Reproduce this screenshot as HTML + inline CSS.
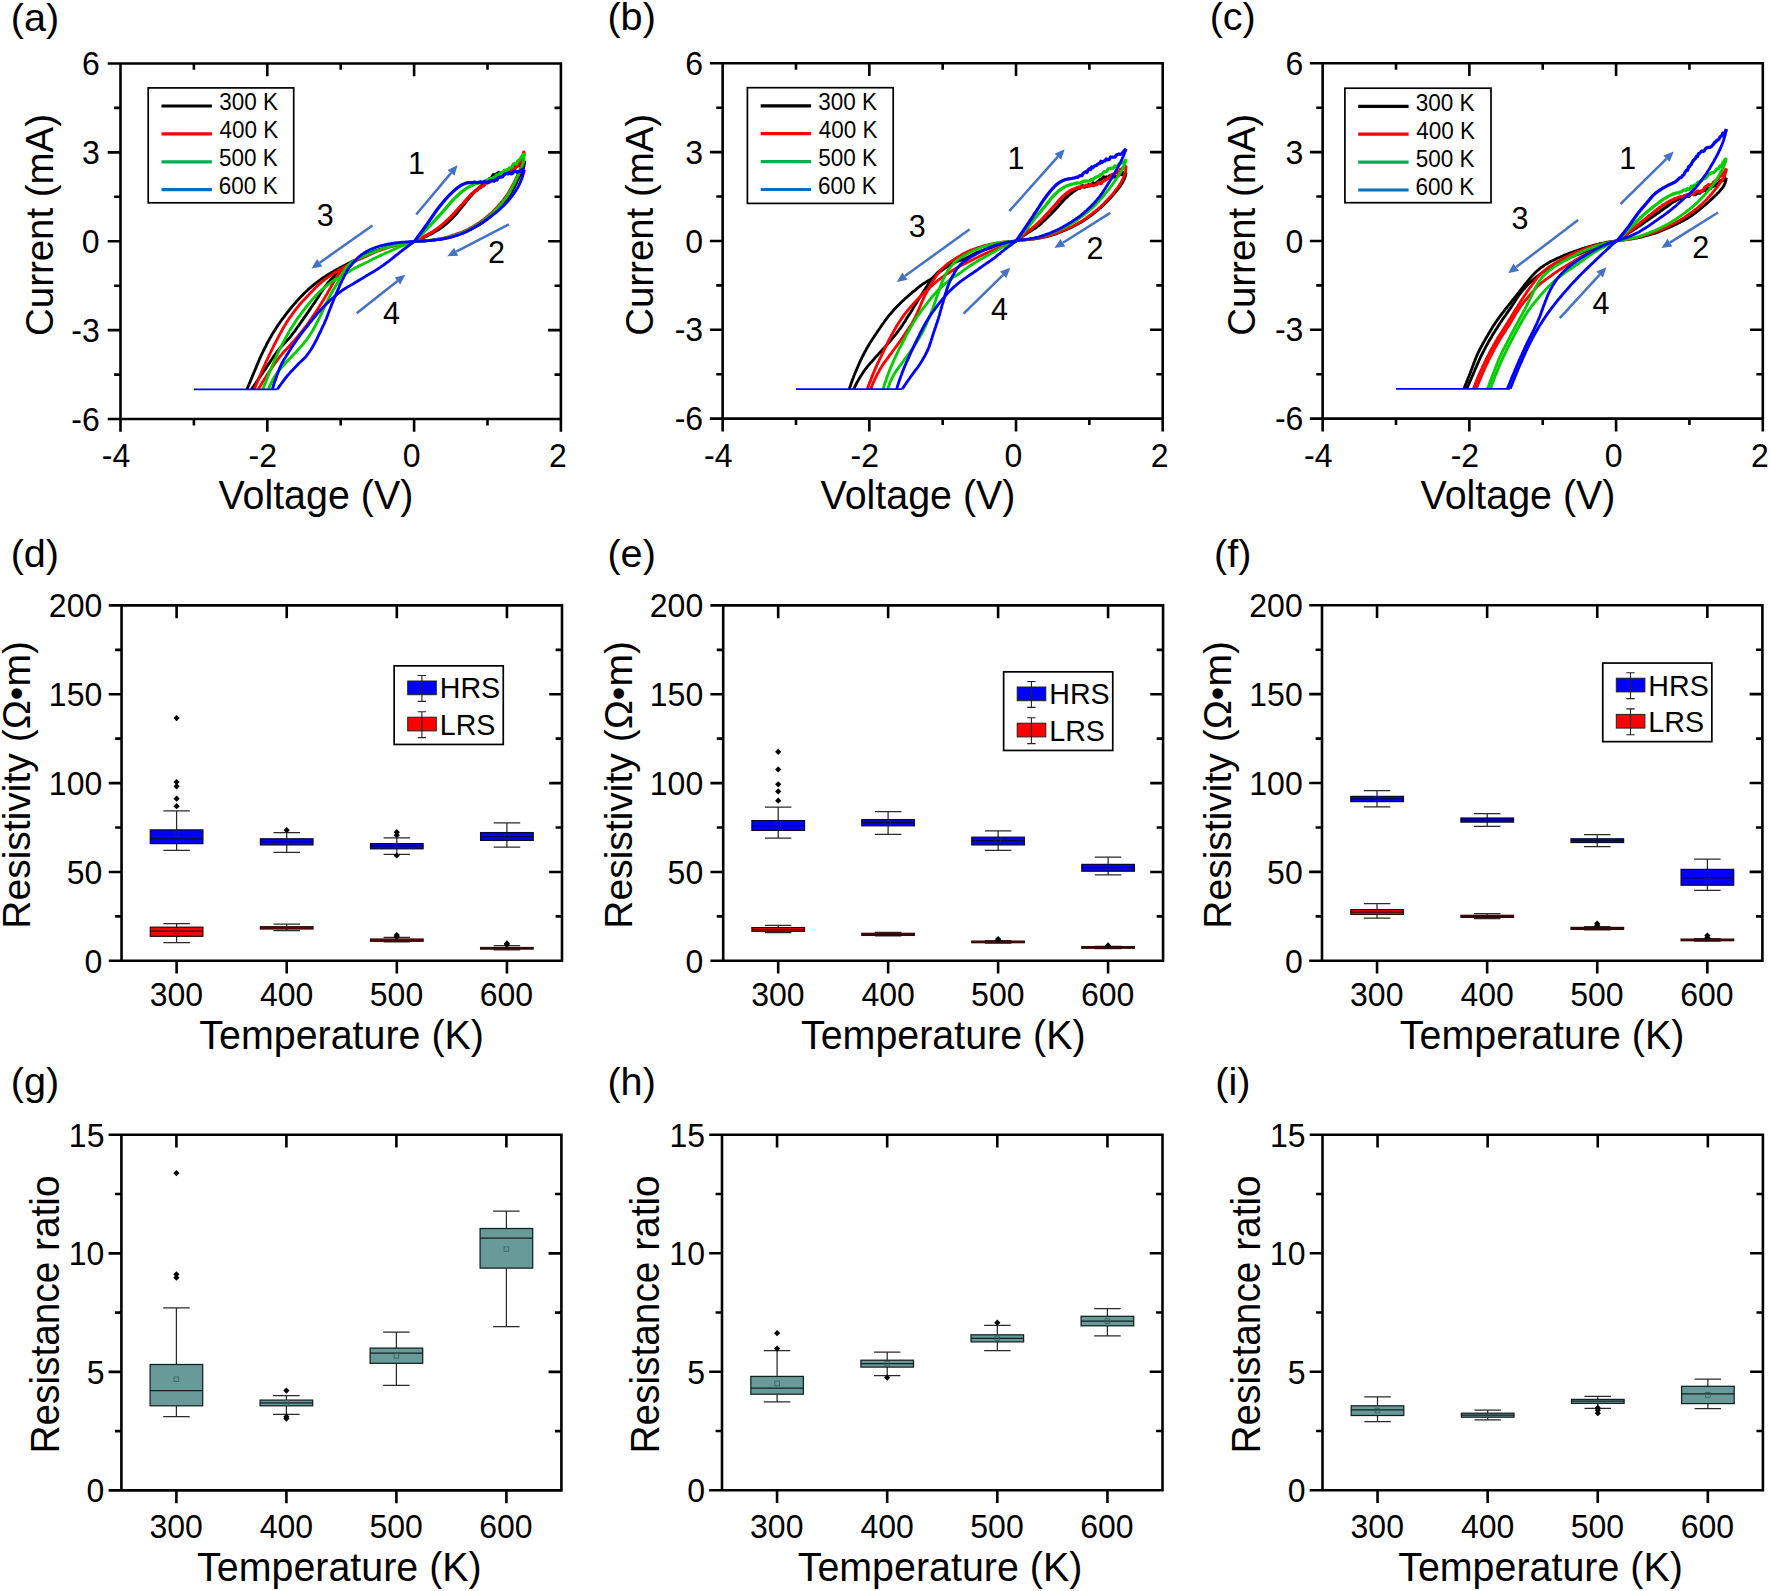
<!DOCTYPE html>
<html lang="en"><head><meta charset="utf-8"><title>Figure</title>
<style>html,body{margin:0;padding:0;background:#fff}svg{display:block}text{font-family:"Liberation Sans",sans-serif;fill:#000}</style></head><body>
<svg width="1770" height="1591" viewBox="0 0 1770 1591">
<rect width="1770" height="1591" fill="#fff"/>
<g>
<path d="M414.5 241.4L415.9 240.8L417.3 240.2L418.7 239.6L420.1 239L421.5 238.4L422.9 237.8L424.3 237.1L425.7 236.5L427 235.8L428.4 235.1L429.8 234.4L431.1 233.7L432.5 233L433.8 232.2L435.1 231.4L436.4 230.6L437.7 229.8L439 229L440.3 228.1L441.5 227.3L442.8 226.4L444 225.4L445.2 224.5L446.3 223.5L447.5 222.5L448.6 221.5L449.7 220.4L450.8 219.4L451.9 218.3L453 217.2L454 216.1L455.1 215L456.1 213.8L457.1 212.7L458 211.5L459 210.3L460 209.1L460.9 207.9L461.9 206.7L462.9 205.5L463.8 204.4L464.8 203.2L465.8 202L466.7 200.8L467.7 199.6L468.6 198.4L469.6 197.2L470.6 196.1L471.6 194.9L472.7 193.9L473.7 192.9L474.9 191.3L476 190.2L477.2 190.1L478.3 188.3L479.5 187.3L480.6 187.6L481.8 185.6L482.9 185.4L484 183.5L485.1 182.8L486.2 180.6L487.4 180.8L488.5 180.3L489.7 178.5L490.9 178.1L492.1 177L493.4 174.6L494.7 175.4L496 174.4L497.5 173.4L499 172.4L500.5 174L502 172.6L503.4 172.8L504.9 172.8L506.4 171.9L507.8 171.9L509.2 170.1L510.6 170.5L512 169L513.4 169.5L514.8 168.7L516.1 166L517.4 165.4L518.7 164.7L519.9 165.7L521.2 163.5L522.4 163L523.6 161.3L524.7 160.8" fill="none" stroke="#000" stroke-width="3.25" stroke-linejoin="round"/>
<path d="M524.7 160.7L524.6 162.3L524.4 163.8L524.1 165.3L523.7 166.8L523.4 168.3L522.9 169.7L522.5 171.2L521.8 172.5L521.1 173.9L520.4 175.3L519.6 176.6L518.9 178L518.2 179.3L517.5 180.7L516.8 182.1L516.2 183.4L515.5 184.8L514.8 186.2L514.1 187.5L513.3 188.9L512.6 190.2L511.8 191.5L511.1 192.9L510.3 194.2L509.4 195.5L508.6 196.7L507.7 198L506.8 199.2L505.9 200.5L505 201.7L504 202.9L503.1 204.1L502.1 205.3L501.1 206.4L500.1 207.6L499.1 208.7L498 209.8L496.9 210.8L495.8 211.9L494.6 212.9L493.5 214L492.4 215L491.2 216L490 217L488.9 217.9L487.7 218.9L486.5 219.9L485.3 220.8L484 221.7L482.8 222.6L481.5 223.4L480.2 224.2L478.9 225L477.6 225.8L476.2 226.5L474.9 227.3L473.5 228L472.2 228.7L470.8 229.4L469.5 230.1L468.1 230.8L466.7 231.4L465.3 232L463.9 232.6L462.5 233.2L461 233.7L459.6 234.2L458.1 234.6L456.7 235.1L455.2 235.6L453.7 236L452.3 236.5L450.8 236.9L449.3 237.4L447.9 237.8L446.4 238.1L444.9 238.5L443.4 238.7L441.9 239L440.4 239.3L438.9 239.5L437.3 239.7L435.8 239.9L434.3 240.1L432.8 240.3L431.3 240.5L429.7 240.6L428.2 240.7L426.7 240.8L425.2 240.9L423.6 241L422.1 241.1L420.6 241.2L419.1 241.2L417.5 241.3L416 241.3L414.5 241.4" fill="none" stroke="#000" stroke-width="2.85" stroke-linejoin="round"/>
<path d="M246.9 389.3L247.5 387.9L248.1 386.5L248.7 385.1L249.3 383.7L249.9 382.3L250.4 380.9L251 379.5L251.6 378.1L252.2 376.7L252.8 375.4L253.3 374L253.9 372.6L254.5 371.2L255.1 369.8L255.7 368.4L256.2 367L256.8 365.6L257.4 364.2L258 362.8L258.6 361.4L259.2 360L259.8 358.6L260.4 357.2L261 355.8L261.7 354.5L262.3 353.1L263 351.7L263.6 350.4L264.3 349L265 347.7L265.7 346.3L266.3 345L267 343.6L267.8 342.3L268.5 340.9L269.2 339.6L269.9 338.3L270.7 337L271.4 335.6L272.2 334.3L273 333L273.8 331.7L274.6 330.5L275.4 329.2L276.2 327.9L277 326.7L277.8 325.4L278.7 324.2L279.6 322.9L280.5 321.7L281.3 320.4L282.2 319.2L283.2 318L284.1 316.8L285 315.6L285.9 314.4L286.8 313.2L287.8 312L288.7 310.8L289.6 309.6L290.6 308.4L291.5 307.3L292.5 306.1L293.5 304.9L294.5 303.8L295.5 302.7L296.5 301.5L297.5 300.4L298.5 299.3L299.5 298.2L300.6 297.1L301.6 296L302.7 294.9L303.8 293.8L304.8 292.7L305.9 291.7L307 290.7L308.1 289.6L309.2 288.6L310.4 287.6L311.5 286.6L312.7 285.7L313.9 284.7L315 283.8L316.2 282.8L317.4 281.9L318.7 281L319.9 280.1L321.1 279.2L322.3 278.3L323.6 277.5L324.9 276.7L326.1 275.8L327.4 275L328.7 274.2L330 273.4L331.3 272.6L332.6 271.9L333.9 271.1L335.2 270.4L336.5 269.6L337.8 268.9L339.2 268.2L340.5 267.5L341.9 266.8L343.2 266.1L344.5 265.4L345.9 264.7L347.2 264L348.6 263.3L350 262.7L351.3 262L352.7 261.3L354 260.6L355.4 260L356.7 259.3L358.1 258.6L359.4 257.9L360.8 257.2L362.1 256.5L363.5 255.8L364.8 255.2L366.2 254.6L367.6 254L369 253.4L370.4 252.8L371.8 252.2L373.2 251.7L374.6 251.1L376.1 250.6L377.5 250.1L378.9 249.7L380.4 249.2L381.8 248.8L383.3 248.3L384.7 247.9L386.2 247.5L387.6 247.1L389.1 246.7L390.6 246.3L392 245.9L393.5 245.5L395 245.2L396.4 244.8L397.9 244.5L399.4 244.1L400.9 243.8L402.3 243.5L403.8 243.3L405.3 243L406.8 242.7L408.3 242.4L409.8 242.2L411.3 242L412.8 241.7L414.3 241.5" fill="none" stroke="#000" stroke-width="2.85" stroke-linejoin="round"/>
<path d="M251.5 389.3L252.3 388.1L253.2 386.8L254.1 385.6L254.9 384.3L255.8 383.1L256.6 381.8L257.5 380.5L258.4 379.3L259.2 378L260.1 376.8L261 375.5L261.8 374.3L262.7 373L263.5 371.8L264.4 370.5L265.3 369.2L266.1 368L266.9 366.7L267.8 365.4L268.6 364.1L269.4 362.9L270.3 361.6L271.1 360.3L272 359L272.8 357.8L273.7 356.5L274.5 355.3L275.4 354L276.3 352.8L277.2 351.6L278.1 350.4L279.1 349.2L280 348L281 346.9L282.1 345.8L283.1 344.7L284.2 343.6L285.3 342.5L286.3 341.4L287.3 340.2L288.4 339.1L289.4 338L290.3 336.8L291.3 335.6L292.2 334.4L293.1 333.2L294 332L295 330.8L295.8 329.5L296.7 328.3L297.6 327L298.5 325.8L299.4 324.6L300.3 323.3L301.1 322.1L302 320.8L302.9 319.6L303.8 318.3L304.6 317.1L305.5 315.8L306.4 314.6L307.2 313.3L308.1 312.1L309 310.8L309.8 309.6L310.7 308.3L311.5 307L312.4 305.8L313.2 304.5L314.1 303.3L315 302L315.8 300.7L316.6 299.5L317.5 298.2L318.3 296.9L319.1 295.6L319.9 294.3L320.7 293L321.6 291.7L322.4 290.5L323.2 289.2L324.1 288L325 286.7L325.9 285.5L326.9 284.3L327.8 283.2L328.8 282L329.8 280.9L330.8 279.8L331.9 278.6L332.9 277.5L334 276.4L335 275.3L336.1 274.2L337.2 273.1L338.2 272L339.3 270.9L340.3 269.8L341.4 268.7L342.5 267.7L343.7 266.8L344.9 265.9L346.1 265L347.4 264.2L348.7 263.4L350.1 262.7L351.4 262L352.8 261.3L354.3 260.7" fill="none" stroke="#000" stroke-width="2.85" stroke-linejoin="round"/>
<path d="M414.5 241.4L415.8 240.7L417.2 240.1L418.6 239.4L419.9 238.7L421.3 238L422.6 237.3L424 236.6L425.3 235.8L426.7 235.1L428 234.4L429.3 233.6L430.6 232.9L432 232.1L433.3 231.3L434.5 230.5L435.8 229.7L437.1 228.8L438.3 227.9L439.5 227L440.7 226L441.9 225.1L443 224.1L444.2 223.1L445.3 222.1L446.5 221.1L447.6 220L448.6 218.9L449.7 217.9L450.8 216.8L451.8 215.7L452.9 214.6L453.9 213.5L455 212.4L456 211.3L457.1 210.1L458.1 209L459.1 207.9L460.1 206.7L461.1 205.6L462.1 204.5L463.2 203.3L464.2 202.2L465.2 201.1L466.2 199.9L467.2 198.7L468.2 197.6L469.2 196.5L470.2 195.3L471.3 194.3L472.4 193.3L473.5 192.5L474.6 191.4L475.8 190.7L477 189.7L478.2 189L479.4 187.7L480.7 185.9L481.9 186.4L483.2 185.9L484.5 185L485.8 183.4L487.1 183L488.5 181.1L489.8 181.8L491.1 180.4L492.4 178.9L493.7 177.6L495 178.7L496.3 178.2L497.6 175.3L498.9 176.2L500.2 174.6L501.6 173.2L503 172.9L504.3 173.4L505.7 173L507.1 170.3L508.4 171L509.8 168.9L511.2 169.8L512.5 168.1L513.9 168.7L515.2 168.1L516.4 166.2L517.6 166.4L518.6 163.7L519.7 162L520.6 162L521.3 159.3L521.9 158.4L522.5 157.5L523 156.6L523.5 154L523.8 152.2L524 152.6" fill="none" stroke="#f00" stroke-width="3.25" stroke-linejoin="round"/>
<path d="M524 151.7L524 153.2L523.9 154.8L523.8 156.3L523.6 157.8L523.4 159.3L523.2 160.7L522.8 162.2L522.3 163.7L521.8 165.1L521.3 166.5L520.8 168L520.2 169.4L519.6 170.8L519 172.2L518.4 173.5L517.7 174.9L517.1 176.3L516.4 177.7L515.7 179L515.1 180.4L514.4 181.7L513.7 183.1L513 184.4L512.3 185.8L511.6 187.1L510.9 188.5L510.2 189.8L509.4 191.1L508.6 192.4L507.8 193.7L507 195L506.1 196.2L505.2 197.4L504.3 198.7L503.4 199.9L502.4 201.1L501.5 202.2L500.5 203.4L499.5 204.5L498.5 205.7L497.5 206.8L496.4 207.9L495.4 209L494.3 210.1L493.2 211.1L492.1 212.2L491 213.2L489.9 214.2L488.7 215.2L487.6 216.2L486.4 217.2L485.3 218.2L484.1 219.2L482.9 220.1L481.7 221L480.4 221.9L479.2 222.7L477.9 223.5L476.6 224.3L475.3 225.1L474 225.9L472.7 226.7L471.4 227.4L470.1 228.1L468.7 228.9L467.4 229.6L466 230.3L464.6 230.9L463.3 231.5L461.9 232.1L460.5 232.7L459 233.2L457.6 233.7L456.2 234.2L454.7 234.7L453.3 235.1L451.8 235.6L450.4 236.1L449 236.6L447.5 237L446 237.5L444.6 237.8L443.1 238.1L441.6 238.4L440.1 238.7L438.6 238.9L437.1 239.2L435.6 239.4L434.1 239.6L432.6 239.9L431.1 240.1L429.6 240.3L428.1 240.4L426.6 240.6L425.1 240.7L423.6 240.8L422 240.9L420.5 241.1L419 241.2L417.5 241.2L416 241.3L414.5 241.4" fill="none" stroke="#f00" stroke-width="2.85" stroke-linejoin="round"/>
<path d="M254.3 389.3L254.9 387.9L255.4 386.5L256 385.1L256.6 383.7L257.2 382.3L257.7 380.9L258.3 379.5L258.9 378.1L259.5 376.7L260.1 375.3L260.7 374L261.3 372.6L261.9 371.2L262.5 369.8L263.1 368.4L263.8 367L264.4 365.7L265 364.3L265.6 362.9L266.3 361.5L266.9 360.1L267.5 358.8L268.2 357.4L268.8 356L269.5 354.7L270.1 353.3L270.8 351.9L271.4 350.6L272.1 349.2L272.8 347.8L273.4 346.5L274.1 345.1L274.8 343.8L275.5 342.4L276.2 341.1L276.9 339.7L277.6 338.4L278.3 337.1L279 335.7L279.7 334.4L280.4 333.1L281.2 331.7L281.9 330.4L282.6 329.1L283.4 327.8L284.2 326.5L284.9 325.2L285.7 323.9L286.5 322.6L287.3 321.3L288.2 320.1L289 318.8L289.8 317.5L290.7 316.3L291.6 315.1L292.5 313.8L293.4 312.6L294.3 311.4L295.2 310.2L296.1 309L297 307.8L298 306.6L298.9 305.4L299.9 304.3L300.9 303.2L301.9 302L302.9 300.9L304 299.8L305 298.7L306.1 297.6L307.1 296.5L308.2 295.4L309.2 294.3L310.2 293.2L311.3 292.1L312.3 291L313.4 289.9L314.4 288.8L315.5 287.7L316.6 286.7L317.7 285.6L318.8 284.6L319.9 283.6L321 282.6L322.2 281.6L323.4 280.7L324.5 279.7L325.8 278.8L327 277.9L328.2 277L329.5 276.2L330.7 275.3L332 274.5L333.2 273.6L334.5 272.8L335.8 272L337.1 271.3L338.4 270.5L339.7 269.7L341 269L342.3 268.2L343.7 267.5L345 266.7L346.3 266L347.6 265.2L348.9 264.5L350.3 263.7L351.6 263L352.9 262.3L354.3 261.6L355.6 261L357 260.3L358.4 259.7L359.8 259.1L361.2 258.5L362.5 257.9L363.9 257.3L365.3 256.7L366.7 256.1L368.1 255.4L369.4 254.8L370.8 254.1L372.2 253.5L373.6 252.9L375 252.3L376.3 251.7L377.8 251.1L379.2 250.6L380.6 250.1L382 249.6L383.4 249.1L384.9 248.6L386.3 248.1L387.8 247.6L389.2 247.2L390.7 246.8L392.1 246.4L393.6 246L395 245.6L396.5 245.2L398 244.8L399.4 244.5L400.9 244.1L402.4 243.8L403.9 243.5L405.4 243.2L406.8 242.9L408.3 242.6L409.8 242.3L411.3 242L412.8 241.8L414.3 241.5" fill="none" stroke="#f00" stroke-width="2.85" stroke-linejoin="round"/>
<path d="M258.2 389.3L259 388L259.8 386.7L260.6 385.4L261.4 384.1L262.1 382.8L262.9 381.5L263.7 380.2L264.5 378.9L265.4 377.7L266.2 376.4L267 375.1L267.8 373.8L268.7 372.6L269.5 371.3L270.4 370L271.2 368.8L272 367.5L272.9 366.3L273.8 365L274.6 363.8L275.5 362.5L276.4 361.3L277.3 360.1L278.2 358.8L279.1 357.6L280 356.4L281 355.3L282 354.1L282.9 353L284 351.8L285 350.7L286 349.6L287.1 348.5L288.1 347.4L289.2 346.3L290.2 345.2L291.2 344L292.2 342.9L293.2 341.8L294.2 340.6L295.2 339.5L296.2 338.3L297.2 337.2L298.2 336L299.1 334.8L300.1 333.7L301 332.5L302 331.3L302.9 330.1L303.9 328.9L304.8 327.7L305.7 326.5L306.6 325.3L307.5 324L308.4 322.8L309.3 321.6L310.1 320.3L311 319.1L311.9 317.8L312.7 316.6L313.6 315.3L314.4 314.1L315.3 312.8L316.1 311.5L316.9 310.3L317.8 309L318.6 307.7L319.4 306.4L320.2 305.1L321 303.9L321.8 302.6L322.6 301.3L323.4 300L324.1 298.7L324.9 297.4L325.7 296.1L326.5 294.8L327.3 293.5L328 292.1L328.8 290.8L329.5 289.5L330.3 288.2L331 286.8L331.8 285.5L332.5 284.2L333.3 282.9L334 281.6L334.8 280.3L335.6 279L336.4 277.7L337.3 276.4L338.1 275.2L339 273.9L339.9 272.6L340.8 271.4L341.8 270.2L342.8 269.2L343.9 268.2L345 267.3L346.2 266.4L347.4 265.5L348.7 264.7L350 263.9L351.4 263.1L352.8 262.5L354.3 261.9" fill="none" stroke="#f00" stroke-width="2.85" stroke-linejoin="round"/>
<path d="M414.5 241.4L415.5 240.3L416.6 239.2L417.7 238.1L418.8 237.1L419.9 236L420.9 234.9L422 233.8L423.1 232.7L424.1 231.6L425.2 230.5L426.3 229.4L427.3 228.3L428.4 227.2L429.4 226.1L430.5 225L431.5 223.9L432.6 222.8L433.6 221.7L434.7 220.6L435.7 219.5L436.8 218.3L437.8 217.2L438.8 216.1L439.9 215L440.9 213.8L441.9 212.7L442.9 211.6L443.9 210.4L444.9 209.2L445.9 208.1L446.9 206.9L447.9 205.7L448.9 204.6L449.9 203.4L450.9 202.3L451.9 201.1L452.9 200L454 198.9L455.1 197.9L456.2 196.8L457.3 195.7L458.4 194.7L459.5 193.6L460.7 192.6L461.8 191.7L463 190.7L464.3 189.8L465.5 189L466.8 188.1L468.1 187.4L469.5 186.6L470.8 186L472.2 185.4L473.6 184.5L475 184L476.4 183.5L477.9 183.2L479.3 182.7L480.8 182.2L482.3 182L483.7 182.3L485.2 180.9L486.6 180.2L488.1 180.4L489.5 178.7L490.9 178.3L492.3 179.3L493.7 177.6L495.1 177L496.5 175L497.8 175.3L499.1 174.9L500.4 172.7L501.7 173.3L503 172.5L504.3 170.3L505.6 170.9L506.9 169.7L508.2 169.4L509.5 167.8L510.8 167.8L512 167L513.2 164.4L514.4 163.5L515.6 164L516.7 163.7L517.8 160.9L518.9 160.3L519.9 159.5L520.9 157.7L521.8 156.6L522.7 155.2L523.5 154.1L524.3 153.3" fill="none" stroke="#00cc00" stroke-width="3.25" stroke-linejoin="round"/>
<path d="M524.3 153.1L524.3 154.6L524.2 156.1L524.1 157.7L523.9 159.2L523.7 160.7L523.4 162.1L523 163.6L522.5 165.1L522 166.5L521.5 168L520.9 169.4L520.4 170.8L519.8 172.2L519.1 173.6L518.5 175L517.8 176.4L517.2 177.8L516.5 179.1L515.8 180.5L515.1 181.9L514.4 183.3L513.7 184.6L513 186L512.3 187.3L511.6 188.7L510.9 190L510.2 191.4L509.4 192.7L508.6 194L507.8 195.3L506.9 196.5L506 197.8L505.1 199L504.2 200.2L503.2 201.4L502.3 202.6L501.3 203.8L500.3 205L499.3 206.1L498.3 207.2L497.2 208.4L496.2 209.5L495.1 210.5L494 211.6L492.9 212.7L491.8 213.7L490.6 214.8L489.5 215.8L488.3 216.8L487.2 217.8L486 218.7L484.8 219.7L483.6 220.6L482.3 221.5L481.1 222.4L479.8 223.2L478.5 224L477.2 224.8L475.9 225.6L474.6 226.4L473.2 227.1L471.9 227.9L470.6 228.6L469.2 229.3L467.8 230L466.5 230.7L465.1 231.4L463.7 232L462.3 232.5L460.9 233.1L459.4 233.6L458 234.1L456.5 234.6L455.1 235L453.6 235.5L452.2 236L450.7 236.5L449.2 236.9L447.8 237.4L446.3 237.8L444.8 238.1L443.3 238.4L441.8 238.7L440.3 238.9L438.8 239.2L437.3 239.4L435.8 239.6L434.3 239.8L432.7 240L431.2 240.2L429.7 240.4L428.2 240.6L426.7 240.7L425.1 240.8L423.6 240.9L422.1 241L420.6 241.1L419 241.2L417.5 241.3L416 241.3L414.5 241.4" fill="none" stroke="#00cc00" stroke-width="2.85" stroke-linejoin="round"/>
<path d="M268.4 389.3L269 387.9L269.6 386.5L270.2 385.1L270.8 383.7L271.5 382.3L272.2 381L272.9 379.7L273.6 378.4L274.4 377.1L275.2 375.8L276 374.5L276.9 373.3L277.8 372.1L278.7 370.9L279.7 369.8L280.7 368.6L281.7 367.4L282.7 366.3L283.7 365.1L284.6 364L285.6 362.9L286.7 361.7L287.7 360.6L288.7 359.5L289.8 358.4L290.8 357.4L291.9 356.3L292.9 355.2L294 354.1L295 353L296.1 351.9L297.1 350.8L298.1 349.7L299.1 348.6L300.1 347.4L301.1 346.3L302.1 345.1L303.1 344L304.1 342.8L305 341.6L306 340.5L306.9 339.3L307.8 338L308.7 336.8L309.5 335.6L310.3 334.3L311.1 333L311.9 331.8L312.7 330.5L313.4 329.1L314.2 327.8L314.9 326.5L315.6 325.1L316.3 323.8L317 322.5L317.7 321.1L318.4 319.8L319.1 318.4L319.8 317.1L320.5 315.7L321.1 314.4L321.8 313L322.4 311.6L323 310.2L323.6 308.8L324.3 307.5L324.9 306.1L325.5 304.7L326.1 303.3L326.8 302L327.5 300.6L328.1 299.3L328.8 297.9L329.5 296.6L330.3 295.3L331 293.9L331.8 292.6L332.5 291.3L333.3 290L334 288.7L334.8 287.4L335.6 286.1L336.4 284.8L337.1 283.5L337.9 282.2L338.6 280.8L339.3 279.5L340.1 278.1L340.8 276.8L341.5 275.4L342.2 274.1L343 272.7L343.8 271.4L344.6 270.1L345.4 268.9L346.3 267.7L347.2 266.6L348.1 265.5L349.2 264.4L350.3 263.4L351.5 262.4L352.8 261.5L354 260.7L355.3 259.9L356.6 259.2L358 258.6L359.4 258L360.8 257.4L362.2 256.8L363.6 256.2L365 255.7L366.4 255.1L367.8 254.5L369.2 253.9L370.6 253.3L372 252.8L373.4 252.2L374.9 251.7L376.3 251.1L377.7 250.6L379.1 250.1L380.5 249.5L381.9 249L383.4 248.5L384.8 248L386.2 247.6L387.7 247.1L389.1 246.7L390.6 246.3L392 245.9L393.5 245.5L395 245.1L396.4 244.8L397.9 244.5L399.4 244.1L400.9 243.8L402.4 243.5L403.8 243.3L405.3 243L406.8 242.7L408.3 242.4L409.8 242.2L411.3 242L412.8 241.7L414.3 241.5" fill="none" stroke="#00cc00" stroke-width="2.85" stroke-linejoin="round"/>
<path d="M262.8 389.3L263.3 387.9L263.9 386.5L264.4 385.1L265 383.7L265.6 382.3L266.1 380.9L266.7 379.4L267.2 378L267.8 376.6L268.4 375.2L269 373.8L269.5 372.4L270.1 371L270.7 369.6L271.2 368.2L271.8 366.8L272.4 365.4L273 364L273.6 362.6L274.1 361.2L274.8 359.8L275.4 358.4L276 357L276.6 355.7L277.3 354.3L277.9 352.9L278.6 351.5L279.2 350.2L279.9 348.8L280.6 347.4L281.3 346.1L281.9 344.7L282.6 343.4L283.3 342L284.1 340.7L284.8 339.4L285.5 338L286.2 336.7L287 335.4L287.7 334.1L288.5 332.8L289.2 331.4L290 330.1L290.8 328.8L291.6 327.5L292.4 326.3L293.2 325L294.1 323.7L294.9 322.4L295.7 321.2L296.6 319.9L297.4 318.7L298.3 317.4L299.2 316.2L300.1 315L301 313.7L301.9 312.5L302.8 311.3L303.7 310.1L304.7 308.9L305.6 307.7L306.6 306.5L307.5 305.4L308.5 304.2L309.4 303L310.4 301.9L311.4 300.7L312.4 299.5L313.4 298.4L314.4 297.2L315.4 296.1L316.4 295L317.5 293.9L318.5 292.8L319.6 291.8L320.7 290.7L321.8 289.7L323 288.7L324.1 287.7L325.3 286.8L326.5 285.8L327.7 284.9L328.9 284L330.2 283.1L331.4 282.2L332.6 281.3L333.9 280.5L335.2 279.7L336.5 279L337.8 278.2L339.1 277.4L340.5 276.7L341.8 275.9L343.1 275.1L344.4 274.4L345.7 273.6L347 272.8L348.3 272L349.6 271.2L350.9 270.4L352.2 269.6L353.5 268.9L354.8 268.1L356.1 267.4L357.5 266.7L358.8 266.1L360.2 265.4L361.6 264.7L362.9 264.1L364.3 263.4L365.7 262.7L367 262.1L368.4 261.4L369.7 260.7L371.1 260L372.4 259.3L373.8 258.6L375.2 258L376.5 257.3L377.9 256.7L379.3 256L380.6 255.4L382 254.8L383.4 254.2L384.8 253.5L386.2 252.9L387.6 252.3L389 251.7L390.3 251.1L391.7 250.4L393.1 249.8L394.5 249.1L395.9 248.5L397.2 247.9L398.6 247.3L400 246.7L401.4 246.2L402.9 245.6L404.3 245.1L405.7 244.5L407.1 244L408.5 243.5L410 243L411.4 242.5L412.8 242L414.3 241.5" fill="none" stroke="#00cc00" stroke-width="2.85" stroke-linejoin="round"/>
<path d="M414.5 241.4L415.4 240.1L416.3 238.9L417.2 237.7L418.1 236.4L419 235.2L419.9 234L420.8 232.7L421.7 231.5L422.6 230.3L423.5 229L424.4 227.8L425.3 226.5L426.2 225.3L427.1 224.1L428 222.8L428.9 221.6L429.7 220.3L430.6 219L431.5 217.8L432.3 216.5L433.2 215.2L434.1 214L434.9 212.7L435.8 211.5L436.7 210.2L437.6 209L438.5 207.8L439.4 206.6L440.4 205.4L441.4 204.2L442.3 203L443.3 201.9L444.3 200.7L445.3 199.5L446.4 198.4L447.4 197.2L448.5 196.1L449.5 195L450.6 193.9L451.7 192.9L452.8 191.8L454 190.8L455.1 189.8L456.3 188.8L457.5 187.8L458.7 186.9L460 186L461.3 185.2L462.6 184.6L464 183.9L465.5 183.3L467 182.9L468.4 182.6L469.9 182.5L471.5 182.5L473 182.6L474.5 182L476.1 182.5L477.6 182.7L479.2 182.1L480.7 181.9L482.2 183.1L483.8 181.8L485.3 181.7L486.8 182.2L488.3 182.7L489.8 180.9L491.3 181L492.8 180.5L494.2 181.2L495.6 179.7L497 180.1L498.3 177.7L499.6 177.2L500.9 177.1L502.3 176.9L503.6 175.2L505 174.1L506.5 173.4L507.9 173.9L509.4 172.7L510.9 173.8L512.4 173.5L513.9 171.5L515.4 171.3L516.8 172.2L518.3 171.5L519.8 171.5L521.3 170.1L522.8 169.2L524.3 169.3" fill="none" stroke="#0000ff" stroke-width="3.25" stroke-linejoin="round"/>
<path d="M524.3 169.8L524 171.3L523.6 172.8L523.2 174.2L522.8 175.7L522.3 177.2L521.8 178.6L521.3 180L520.7 181.5L520 182.9L519.4 184.3L518.7 185.6L518 187L517.3 188.3L516.5 189.6L515.7 190.9L514.8 192.2L514 193.5L513.1 194.7L512.1 195.9L511.2 197.2L510.2 198.4L509.3 199.6L508.3 200.7L507.3 201.9L506.3 203L505.2 204.1L504.1 205.2L503 206.2L501.9 207.3L500.8 208.3L499.6 209.4L498.5 210.4L497.3 211.4L496.1 212.3L495 213.3L493.7 214.2L492.5 215.2L491.3 216.1L490.1 217L488.9 217.9L487.6 218.8L486.4 219.7L485.1 220.6L483.9 221.5L482.6 222.3L481.3 223.1L480 224L478.7 224.8L477.4 225.6L476.1 226.4L474.8 227.1L473.5 227.9L472.1 228.6L470.8 229.4L469.4 230.1L468.1 230.8L466.7 231.5L465.3 232.2L463.9 232.8L462.5 233.4L461.1 233.9L459.6 234.5L458.2 235L456.7 235.4L455.3 235.9L453.8 236.3L452.3 236.8L450.9 237.2L449.4 237.5L447.9 237.9L446.4 238.2L444.9 238.5L443.4 238.8L441.9 239L440.4 239.3L438.9 239.5L437.3 239.7L435.8 239.9L434.3 240L432.8 240.2L431.3 240.4L429.7 240.5L428.2 240.7L426.7 240.8L425.2 240.9L423.6 241L422.1 241.1L420.6 241.1L419.1 241.2L417.5 241.3L416 241.3L414.5 241.4" fill="none" stroke="#0000ff" stroke-width="2.85" stroke-linejoin="round"/>
<path d="M277.5 389.3L278.3 388L279.1 386.8L280 385.5L280.9 384.3L281.8 383L282.7 381.8L283.6 380.6L284.5 379.4L285.4 378.2L286.4 377L287.3 375.9L288.3 374.7L289.3 373.6L290.3 372.4L291.3 371.3L292.4 370.2L293.4 369.1L294.5 368L295.5 366.9L296.6 365.8L297.6 364.7L298.7 363.6L299.8 362.5L300.9 361.5L302 360.4L303.1 359.4L304.2 358.3L305.3 357.2L306.3 356.1L307.2 354.9L308.1 353.7L309 352.5L309.8 351.3L310.7 350L311.5 348.7L312.3 347.4L313 346L313.8 344.7L314.5 343.4L315.3 342.1L316 340.7L316.7 339.4L317.4 338L318 336.6L318.7 335.3L319.3 333.9L320 332.5L320.7 331.2L321.3 329.8L321.9 328.4L322.6 327L323.2 325.7L323.9 324.3L324.5 322.9L325.1 321.5L325.7 320.1L326.3 318.7L326.8 317.3L327.4 315.9L327.9 314.5L328.5 313L329 311.6L329.5 310.2L330.1 308.8L330.6 307.4L331.2 305.9L331.7 304.5L332.3 303.1L332.9 301.7L333.4 300.3L334 298.9L334.6 297.5L335.2 296.1L335.8 294.7L336.4 293.3L337 291.9L337.6 290.5L338.2 289.1L338.8 287.7L339.4 286.3L340 284.9L340.6 283.5L341.3 282.2L341.9 280.8L342.6 279.4L343.3 278.1L343.9 276.7L344.6 275.4L345.3 274L346.1 272.7L346.8 271.3L347.6 270L348.4 268.8L349.3 267.5L350.2 266.3L351.2 265.2L352.2 264L353.2 262.9L354.2 261.7L355.2 260.6L356.3 259.5L357.3 258.4L358.4 257.3L359.5 256.3L360.7 255.4L361.9 254.4L363.2 253.6L364.4 252.7L365.7 252L367.1 251.2L368.4 250.5L369.8 249.8L371.2 249.2L372.6 248.6L374 248L375.4 247.5L376.8 247L378.3 246.5L379.7 246.1L381.2 245.7L382.7 245.3L384.1 245L385.6 244.6L387.1 244.3L388.6 244L390.1 243.8L391.6 243.5L393.1 243.3L394.6 243L396.1 242.8L397.6 242.6L399.1 242.5L400.6 242.3L402.2 242.2L403.7 242.1L405.2 242L406.7 241.8L408.2 241.8L409.7 241.7L411.2 241.6L412.8 241.6L414.3 241.5" fill="none" stroke="#0000ff" stroke-width="2.85" stroke-linejoin="round"/>
<path d="M272.4 389.3L272.8 387.9L273.2 386.4L273.7 385L274.1 383.5L274.6 382.1L275.1 380.7L275.6 379.2L276.1 377.8L276.6 376.4L277.1 374.9L277.6 373.5L278.1 372.1L278.7 370.7L279.2 369.3L279.8 367.9L280.4 366.5L281.1 365.2L281.7 363.8L282.4 362.5L283.2 361.2L283.9 359.8L284.7 358.5L285.5 357.3L286.3 356L287.1 354.7L287.9 353.4L288.7 352.1L289.5 350.8L290.3 349.6L291.1 348.3L292 347L292.8 345.8L293.6 344.5L294.5 343.2L295.3 342L296.2 340.7L297.1 339.5L297.9 338.3L298.8 337.1L299.7 335.8L300.6 334.6L301.5 333.4L302.4 332.2L303.4 331L304.3 329.8L305.2 328.6L306.2 327.5L307.1 326.3L308.1 325.1L309 323.9L309.9 322.7L310.9 321.5L311.8 320.4L312.8 319.2L313.7 318L314.7 316.8L315.7 315.7L316.6 314.5L317.6 313.4L318.6 312.2L319.6 311.1L320.6 310L321.6 308.9L322.7 307.8L323.7 306.7L324.8 305.6L325.8 304.5L326.9 303.4L328 302.4L329.1 301.3L330.2 300.3L331.3 299.3L332.4 298.3L333.6 297.3L334.7 296.3L335.9 295.3L337 294.4L338.2 293.4L339.4 292.5L340.6 291.6L341.9 290.7L343.1 289.8L344.3 289L345.6 288.2L346.9 287.4L348.2 286.6L349.5 285.9L350.8 285.1L352.2 284.4L353.5 283.6L354.8 282.8L356.1 282L357.4 281.3L358.6 280.5L359.9 279.7L361.2 278.9L362.5 278.2L363.8 277.4L365.1 276.6L366.4 275.8L367.7 275.1L369 274.3L370.3 273.5L371.6 272.8L372.9 272L374.2 271.2L375.5 270.4L376.8 269.6L378.1 268.8L379.3 267.9L380.6 267.1L381.8 266.2L383.1 265.4L384.3 264.5L385.5 263.6L386.7 262.7L388 261.8L389.2 260.9L390.3 260L391.5 259L392.7 258.1L393.9 257.1L395 256.2L396.2 255.2L397.4 254.3L398.6 253.3L399.8 252.4L401 251.5L402.2 250.5L403.4 249.6L404.6 248.7L405.8 247.8L407 246.9L408.2 246L409.4 245.1L410.6 244.2L411.8 243.3L413.1 242.4L414.3 241.5" fill="none" stroke="#0000ff" stroke-width="2.85" stroke-linejoin="round"/>
<path d="M193.9 389.3H277.5" stroke="#0000ff" stroke-width="1.8" fill="none"/>
</g>
<path d="M120.5 63.45H560.9V419.05H120.5ZM120.5 419.05v12.8M120.5 63.45v12.8M267.3 419.05v12.8M267.3 63.45v12.8M414.1 419.05v12.8M414.1 63.45v12.8M560.9 419.05v12.8M560.9 63.45v12.8M193.9 419.05v6.4M193.9 63.45v6.4M340.7 419.05v6.4M340.7 63.45v6.4M487.5 419.05v6.4M487.5 63.45v6.4M120.5 63.45h-12.8M560.9 63.45h-12.8M120.5 152.35h-12.8M560.9 152.35h-12.8M120.5 241.25h-12.8M560.9 241.25h-12.8M120.5 330.15h-12.8M560.9 330.15h-12.8M120.5 419.05h-12.8M560.9 419.05h-12.8M120.5 107.9h-6.4M560.9 107.9h-6.4M120.5 196.8h-6.4M560.9 196.8h-6.4M120.5 285.7h-6.4M560.9 285.7h-6.4M120.5 374.6h-6.4M560.9 374.6h-6.4" fill="none" stroke="#000" stroke-width="2.6"/>
<text transform="translate(81.91 75.05) scale(1 1.045)" font-size="32">6</text>
<text transform="translate(81.91 163.95) scale(1 1.045)" font-size="32">3</text>
<text transform="translate(81.75 252.85) scale(1 1.045)" font-size="32">0</text>
<text transform="translate(71.25 341.75) scale(1 1.045)" font-size="32">-3</text>
<text transform="translate(71.25 430.65) scale(1 1.045)" font-size="32">-6</text>
<text transform="translate(101.83 466.8) scale(1 1.045)" font-size="32">-4</text>
<text transform="translate(248.57 466.8) scale(1 1.045)" font-size="32">-2</text>
<text transform="translate(402.7 466.8) scale(1 1.045)" font-size="32">0</text>
<text transform="translate(549 466.8) scale(1 1.045)" font-size="32">2</text>
<text transform="translate(52.5 335.9) rotate(-90) scale(1 1.03)" font-size="38.4">Current (mA)</text>
<text transform="translate(218.43 508.8) scale(1 1.045)" font-size="39.4">Voltage (V)</text>
<rect x="148.2" y="87.9" width="145.5" height="114.9" fill="#fff" stroke="#000" stroke-width="1.7"/>
<path d="M161.5 106h50.4" stroke="#000" stroke-width="3.2" fill="none"/>
<text transform="translate(219.14 110.3) scale(1 1.03)" font-size="22.5">300 K</text>
<path d="M161.5 133.9h50.4" stroke="#ff0000" stroke-width="3.2" fill="none"/>
<text transform="translate(219.48 138.3) scale(1 1.03)" font-size="22.5">400 K</text>
<path d="M161.5 161.8h50.4" stroke="#00b050" stroke-width="3.2" fill="none"/>
<text transform="translate(219.1 166.3) scale(1 1.03)" font-size="22.5">500 K</text>
<path d="M161.5 189.7h50.4" stroke="#0070c0" stroke-width="3.2" fill="none"/>
<text transform="translate(218.86 194.3) scale(1 1.03)" font-size="22.5">600 K</text>
<path d="M416.2 214.5L451.1 172.9" stroke="#4472c4" stroke-width="2.5" fill="none"/>
<path d="M457.5 165.2L454.5 175.8L447.6 170Z" fill="#4472c4"/>
<path d="M508.8 224.4L456.2 251.7" stroke="#4472c4" stroke-width="2.5" fill="none"/>
<path d="M447.3 256.3L454.1 247.7L458.2 255.7Z" fill="#4472c4"/>
<path d="M372.5 225.5L319.7 262.7" stroke="#4472c4" stroke-width="2.5" fill="none"/>
<path d="M311.5 268.5L317.1 259.1L322.3 266.4Z" fill="#4472c4"/>
<path d="M356.7 313.2L397.5 281" stroke="#4472c4" stroke-width="2.5" fill="none"/>
<path d="M405.3 274.8L400.2 284.5L394.7 277.5Z" fill="#4472c4"/>
<text transform="translate(407.9 173.6) scale(1 1.045)" font-size="30.5">1</text>
<text transform="translate(487.92 262.9) scale(1 1.045)" font-size="30.5">2</text>
<text transform="translate(316.71 225.6) scale(1 1.045)" font-size="30.5">3</text>
<text transform="translate(382.92 323.9) scale(1 1.045)" font-size="30.5">4</text>
<text transform="translate(10.74 31) scale(1 1.0)" font-size="39.6">(a)</text>
<g>
<path d="M1016.7 240.3L1018 239.4L1019.2 238.5L1020.5 237.6L1021.7 236.7L1023 235.9L1024.2 235L1025.5 234.1L1026.8 233.3L1028 232.4L1029.3 231.6L1030.6 230.8L1031.9 230L1033.2 229.2L1034.5 228.3L1035.8 227.5L1037 226.6L1038.2 225.6L1039.4 224.7L1040.5 223.7L1041.7 222.7L1042.8 221.6L1044 220.6L1045.1 219.6L1046.2 218.5L1047.3 217.5L1048.4 216.4L1049.5 215.3L1050.6 214.2L1051.6 213.1L1052.7 212L1053.8 210.9L1054.8 209.8L1055.9 208.7L1056.9 207.6L1057.9 206.4L1058.9 205.3L1059.9 204.1L1060.9 203L1062 201.9L1063 200.8L1064.1 199.7L1065.2 198.6L1066.3 197.5L1067.4 196.5L1068.6 195.4L1069.7 194.4L1070.9 193.5L1072.1 192.6L1073.3 191.6L1074.6 190.7L1075.9 189.8L1077.2 189L1078.5 188.2L1079.9 188.3L1081.3 186.6L1082.7 185.7L1084.2 187.1L1085.7 186.6L1087.1 186.4L1088.6 184.6L1090.1 185.5L1091.6 185L1093 182.9L1094.5 183.6L1095.9 183.3L1097.2 182.2L1098.6 181.1L1099.9 179.8L1101.2 179.1L1102.5 177.9L1103.9 176.9L1105.3 177.8L1106.8 176.8L1108.3 177.8L1109.8 175.6L1111.4 177.4L1112.9 176.6L1114.4 176.9L1115.9 176.5L1117.3 176.2L1118.8 175L1120.3 173.3L1121.8 174.6L1123.2 172.7L1124.7 172.5L1126.1 172.9" fill="none" stroke="#000" stroke-width="3.25" stroke-linejoin="round"/>
<path d="M1126.1 172.5L1125.8 174L1125.5 175.5L1125.1 177L1124.6 178.4L1124 179.8L1123.3 181.2L1122.5 182.5L1121.7 183.8L1120.9 185.1L1120 186.4L1119.1 187.6L1118.2 188.8L1117.2 190L1116.3 191.2L1115.3 192.4L1114.3 193.6L1113.3 194.7L1112.3 195.9L1111.3 197L1110.3 198.2L1109.2 199.3L1108.2 200.4L1107.1 201.5L1106 202.5L1104.9 203.6L1103.8 204.7L1102.7 205.7L1101.6 206.8L1100.4 207.8L1099.3 208.8L1098.1 209.8L1096.9 210.8L1095.8 211.7L1094.6 212.7L1093.4 213.6L1092.1 214.6L1090.9 215.5L1089.7 216.4L1088.5 217.3L1087.2 218.2L1085.9 219.1L1084.7 219.9L1083.4 220.7L1082.1 221.6L1080.8 222.4L1079.5 223.1L1078.2 223.9L1076.8 224.6L1075.5 225.3L1074.1 226L1072.7 226.7L1071.3 227.4L1070 228L1068.6 228.6L1067.2 229.3L1065.8 229.9L1064.3 230.4L1062.9 231L1061.5 231.6L1060.1 232.2L1058.7 232.7L1057.2 233.3L1055.8 233.8L1054.3 234.3L1052.9 234.8L1051.4 235.2L1050 235.7L1048.5 236.1L1047 236.5L1045.5 236.9L1044 237.2L1042.6 237.5L1041 237.8L1039.5 238.1L1038 238.4L1036.5 238.6L1035 238.8L1033.5 239L1032 239.2L1030.5 239.4L1028.9 239.6L1027.4 239.7L1025.9 239.8L1024.4 239.9L1022.8 240L1021.3 240.1L1019.8 240.2L1018.3 240.2L1016.7 240.3" fill="none" stroke="#000" stroke-width="2.85" stroke-linejoin="round"/>
<path d="M849.2 389.1L849.7 387.7L850.2 386.2L850.7 384.8L851.2 383.3L851.7 381.9L852.2 380.5L852.7 379.1L853.3 377.7L853.8 376.3L854.4 374.8L854.9 373.4L855.5 372L856.1 370.6L856.7 369.3L857.3 367.9L857.9 366.5L858.5 365.1L859.1 363.7L859.7 362.3L860.3 361L861 359.6L861.7 358.2L862.3 356.9L863 355.5L863.7 354.2L864.4 352.8L865.1 351.5L865.8 350.2L866.5 348.8L867.3 347.5L868 346.2L868.8 344.9L869.6 343.6L870.4 342.3L871.2 341.1L872 339.8L872.9 338.5L873.7 337.3L874.5 336L875.4 334.7L876.2 333.5L877.1 332.2L877.9 331L878.8 329.7L879.6 328.5L880.5 327.2L881.3 326L882.2 324.7L883.1 323.5L884 322.2L884.8 321L885.7 319.8L886.6 318.6L887.6 317.4L888.5 316.2L889.4 315L890.4 313.9L891.4 312.7L892.4 311.6L893.4 310.4L894.4 309.3L895.4 308.2L896.5 307.1L897.5 306L898.6 304.9L899.6 303.9L900.7 302.8L901.8 301.7L902.9 300.7L904 299.7L905.1 298.7L906.3 297.7L907.4 296.7L908.6 295.7L909.7 294.7L910.9 293.7L912 292.7L913.2 291.7L914.3 290.8L915.5 289.8L916.7 288.8L917.8 287.9L919 286.9L920.2 286L921.4 285.1L922.7 284.2L923.9 283.4L925.2 282.6L926.5 281.8L927.8 281L929.1 280.3L930.4 279.5L931.6 278.6L932.9 277.7L934.1 276.8L935.2 275.8L936.4 274.9L937.5 273.9L938.7 272.9L939.9 271.9L941 271L942.3 270.1L943.5 269.2L944.7 268.4L946 267.5L947.3 266.7L948.6 265.9L949.9 265.1L951.2 264.4L952.5 263.7L953.9 263L955.2 262.3L956.6 261.7L958 261.2L959.4 260.6L960.9 260.1L962.3 259.6L963.7 259L965.1 258.5L966.5 257.8L967.8 257.2L969.2 256.5L970.5 255.8L971.9 255L973.2 254.3L974.6 253.7L975.9 253L977.3 252.4L978.7 251.9L980.1 251.4L981.6 250.9L983 250.4L984.4 249.9L985.9 249.4L987.3 248.9L988.7 248.5L990.2 247.9L991.6 247.4L993 246.9L994.4 246.3L995.9 245.8L997.3 245.4L998.7 244.9L1000.2 244.5L1001.6 244.1L1003.1 243.7L1004.6 243.4L1006 243L1007.5 242.7L1009 242.3L1010.5 242L1011.9 241.7L1013.4 241.4L1014.9 241.2L1016.4 241" fill="none" stroke="#000" stroke-width="2.85" stroke-linejoin="round"/>
<path d="M853.7 389.1L854.4 387.7L855 386.3L855.7 385L856.4 383.6L857.1 382.3L857.9 380.9L858.6 379.6L859.4 378.3L860.2 377L861 375.7L861.8 374.5L862.6 373.2L863.4 371.9L864.3 370.7L865.1 369.5L866.1 368.3L867 367.1L868 365.9L868.9 364.8L869.9 363.6L870.9 362.5L872 361.4L873 360.2L874 359.1L875 357.9L876 356.8L877 355.7L878 354.6L879 353.4L880.1 352.3L881.1 351.2L882.1 350.1L883.1 349L884.2 347.9L885.2 346.8L886.2 345.6L887.2 344.5L888.2 343.3L889.2 342.2L890.2 341L891.2 339.9L892.1 338.7L893.1 337.6L894.1 336.4L895 335.2L896 334.1L896.9 332.9L897.8 331.7L898.7 330.4L899.6 329.2L900.5 328L901.3 326.7L902.2 325.5L903 324.2L903.8 323L904.7 321.7L905.5 320.4L906.3 319.1L907.1 317.8L907.9 316.6L908.7 315.3L909.6 314L910.4 312.7L911.2 311.4L912 310.2L912.7 308.9L913.5 307.6L914.3 306.3L915.1 305L915.9 303.7L916.7 302.4L917.5 301.1L918.3 299.8L919.1 298.5L919.9 297.3L920.7 296L921.5 294.7L922.3 293.4L923.1 292.1L923.9 290.9L924.8 289.6L925.6 288.3L926.4 287.1L927.3 285.8L928.1 284.5L928.9 283.2L929.7 281.9L930.6 280.7L931.5 279.4L932.4 278.2L933.3 277.1L934.3 275.9L935.3 274.9L936.4 273.8L937.5 272.7L938.7 271.7L939.8 270.7L941.1 269.8L942.3 268.9L943.5 268.1L944.8 267.3L946 266.5L947.4 265.8L948.7 265L950.1 264.4L951.4 263.7L952.9 263.1L954.3 262.5" fill="none" stroke="#000" stroke-width="2.85" stroke-linejoin="round"/>
<path d="M1016.7 240.3L1017.9 239.3L1019.1 238.4L1020.3 237.5L1021.5 236.5L1022.7 235.6L1023.9 234.7L1025.1 233.7L1026.3 232.8L1027.5 231.8L1028.7 230.9L1030 229.9L1031.2 229L1032.4 228.1L1033.6 227.1L1034.7 226.1L1035.9 225.2L1037 224.1L1038.1 223.1L1039.2 222L1040.3 221L1041.4 219.9L1042.4 218.8L1043.5 217.7L1044.5 216.6L1045.6 215.5L1046.6 214.3L1047.7 213.2L1048.7 212.1L1049.7 211L1050.7 209.8L1051.8 208.7L1052.8 207.5L1053.8 206.4L1054.8 205.3L1055.8 204.1L1056.8 203L1057.8 201.8L1058.8 200.6L1059.8 199.5L1060.9 198.4L1061.9 197.3L1063 196.2L1064.2 195.2L1065.3 194.2L1066.5 193.2L1067.8 192.3L1069 191.5L1070.3 190.7L1071.6 190L1073 189.3L1074.4 188.9L1075.9 188.2L1077.3 187.6L1078.8 187.1L1080.3 187.6L1081.8 186.7L1083.3 187.1L1084.8 185.9L1086.3 185.2L1087.8 185.7L1089.3 186.1L1090.8 184.3L1092.3 185.5L1093.8 185.5L1095.3 184.9L1096.8 184.6L1098.3 182.3L1099.8 183.5L1101.3 183.6L1102.6 181.1L1103.9 180.9L1105.1 180L1106.3 179.6L1107.6 178.4L1108.8 177.6L1110.1 177.6L1111.4 174.9L1112.8 174.3L1114.1 173.7L1115.4 172.9L1116.7 172L1118 173.3L1119.2 172.1L1120.4 169.3L1121.5 169.3L1122.7 167.9L1123.8 166.9L1125 165.9L1126.1 165.6" fill="none" stroke="#f00" stroke-width="3.25" stroke-linejoin="round"/>
<path d="M1126.1 165.3L1126 166.8L1125.9 168.3L1125.7 169.9L1125.4 171.4L1125.1 172.8L1124.7 174.3L1124.2 175.7L1123.7 177.2L1123 178.6L1122.3 180L1121.7 181.3L1120.9 182.7L1120.1 184L1119.3 185.3L1118.4 186.5L1117.6 187.8L1116.7 189L1115.7 190.2L1114.8 191.4L1113.8 192.6L1112.8 193.8L1111.8 195L1110.8 196.1L1109.8 197.2L1108.8 198.4L1107.7 199.5L1106.7 200.6L1105.6 201.7L1104.6 202.8L1103.5 203.9L1102.4 205L1101.3 206L1100.2 207.1L1099 208.1L1097.9 209.1L1096.7 210.1L1095.5 211L1094.3 212L1093.1 212.9L1091.9 213.9L1090.7 214.8L1089.4 215.7L1088.2 216.6L1087 217.5L1085.7 218.4L1084.5 219.3L1083.2 220.1L1081.9 221L1080.6 221.8L1079.3 222.5L1078 223.3L1076.6 224L1075.3 224.8L1073.9 225.5L1072.6 226.2L1071.2 226.8L1069.8 227.5L1068.4 228.1L1067 228.7L1065.6 229.3L1064.2 229.9L1062.8 230.5L1061.4 231.1L1060 231.7L1058.6 232.3L1057.1 232.9L1055.7 233.4L1054.3 233.9L1052.8 234.4L1051.4 234.9L1049.9 235.4L1048.4 235.8L1047 236.2L1045.5 236.6L1044 236.9L1042.5 237.3L1041 237.6L1039.5 237.9L1038 238.2L1036.5 238.4L1035 238.7L1033.5 238.9L1032 239.1L1030.4 239.3L1028.9 239.5L1027.4 239.6L1025.9 239.8L1024.4 239.9L1022.8 240L1021.3 240.1L1019.8 240.2L1018.3 240.2L1016.7 240.3" fill="none" stroke="#f00" stroke-width="2.85" stroke-linejoin="round"/>
<path d="M870.7 389.1L871.2 387.7L871.8 386.2L872.4 384.8L872.9 383.4L873.6 382L874.2 380.6L874.8 379.2L875.5 377.9L876.2 376.5L876.8 375.2L877.5 373.8L878.3 372.5L879 371.2L879.7 369.8L880.5 368.5L881.2 367.2L882 366L882.8 364.7L883.7 363.4L884.6 362.2L885.4 361L886.4 359.8L887.3 358.5L888.2 357.3L889.1 356.1L890 354.9L891 353.7L891.8 352.4L892.7 351.2L893.6 350L894.5 348.8L895.4 347.5L896.3 346.3L897.2 345.1L898.1 343.8L899 342.6L899.9 341.4L900.7 340.1L901.6 338.9L902.5 337.7L903.3 336.4L904.2 335.1L905 333.9L905.9 332.6L906.7 331.4L907.5 330.1L908.4 328.8L909.2 327.5L910 326.2L910.8 325L911.6 323.7L912.4 322.4L913.2 321.1L913.9 319.7L914.6 318.4L915.3 317.1L916 315.7L916.6 314.3L917.2 313L917.8 311.6L918.4 310.2L919 308.8L919.6 307.4L920.2 306L920.8 304.6L921.4 303.1L922 301.8L922.6 300.4L923.2 299L923.9 297.6L924.5 296.3L925.2 294.9L925.9 293.6L926.6 292.2L927.3 290.9L928 289.5L928.8 288.2L929.5 286.9L930.3 285.5L931 284.2L931.8 282.9L932.6 281.6L933.4 280.3L934.2 279L935 277.8L935.9 276.5L936.7 275.2L937.6 274L938.5 272.9L939.5 271.7L940.5 270.6L941.5 269.4L942.6 268.3L943.7 267.3L944.8 266.2L946 265.2L947.1 264.2L948.3 263.3L949.5 262.4L950.8 261.6L952.1 260.8L953.4 260L954.6 259.2L955.9 258.3L957.2 257.5L958.5 256.7L959.8 255.9L961.1 255.1L962.4 254.3L963.7 253.6L965 252.9L966.4 252.2L967.8 251.6L969.2 251L970.6 250.4L972 249.9L973.4 249.3L974.8 248.8L976.3 248.3L977.7 247.8L979.1 247.3L980.6 246.8L982 246.4L983.5 245.9L985 245.5L986.4 245.1L987.9 244.8L989.4 244.4L990.8 244.1L992.3 243.8L993.8 243.5L995.3 243.3L996.8 243L998.3 242.8L999.8 242.6L1001.3 242.4L1002.8 242.2L1004.3 242L1005.8 241.9L1007.4 241.7L1008.9 241.6L1010.4 241.4L1011.9 241.3L1013.4 241.2L1014.9 241L1016.4 241" fill="none" stroke="#f00" stroke-width="2.85" stroke-linejoin="round"/>
<path d="M867.3 389.1L867.8 387.7L868.3 386.2L868.8 384.8L869.4 383.4L869.9 382L870.5 380.6L871 379.2L871.6 377.8L872.1 376.3L872.7 374.9L873.3 373.5L873.9 372.1L874.4 370.8L875 369.4L875.6 368L876.2 366.6L876.9 365.2L877.5 363.8L878.1 362.5L878.8 361.1L879.4 359.7L880.1 358.3L880.7 357L881.4 355.6L882 354.2L882.7 352.9L883.4 351.5L884 350.2L884.7 348.8L885.3 347.4L886 346.1L886.6 344.7L887.3 343.3L888 342L888.6 340.6L889.3 339.3L890 337.9L890.7 336.6L891.4 335.2L892.2 333.9L892.9 332.6L893.7 331.3L894.4 330L895.2 328.7L895.9 327.4L896.7 326.1L897.5 324.8L898.3 323.5L899.1 322.2L900 320.9L900.8 319.7L901.7 318.4L902.5 317.2L903.4 315.9L904.3 314.7L905.2 313.5L906.1 312.3L907.1 311.1L908 310L909 308.8L910 307.6L911 306.5L912 305.4L913 304.2L914 303.1L915 302L916.1 300.9L917.1 299.8L918.2 298.7L919.2 297.6L920.3 296.6L921.4 295.5L922.5 294.4L923.6 293.4L924.7 292.3L925.8 291.3L926.9 290.2L928 289.2L929.1 288.2L930.2 287.1L931.3 286.1L932.4 285.1L933.5 284.1L934.7 283.1L935.8 282.1L937 281.1L938.2 280.2L939.4 279.3L940.6 278.4L941.8 277.5L943.1 276.6L944.3 275.8L945.6 274.9L946.9 274.1L948.1 273.3L949.4 272.5L950.7 271.6L952 270.8L953.2 270L954.5 269.3L955.8 268.5L957.2 267.7L958.5 267L959.8 266.2L961.1 265.5L962.5 264.8L963.8 264.1L965.2 263.5L966.5 262.8L967.9 262.1L969.3 261.5L970.6 260.8L972 260.1L973.3 259.5L974.7 258.8L976 258.1L977.4 257.4L978.7 256.7L980.1 256L981.5 255.4L982.8 254.7L984.2 254.1L985.6 253.4L986.9 252.8L988.3 252.2L989.7 251.6L991.1 251L992.5 250.4L993.9 249.8L995.3 249.2L996.7 248.6L998.1 248L999.5 247.5L1000.9 246.9L1002.3 246.4L1003.7 245.8L1005.1 245.3L1006.5 244.7L1007.9 244.2L1009.4 243.6L1010.8 243.1L1012.2 242.6L1013.6 242L1015 241.5L1016.4 241" fill="none" stroke="#f00" stroke-width="2.85" stroke-linejoin="round"/>
<path d="M1016.7 240.3L1017.7 239.1L1018.7 238L1019.7 236.8L1020.7 235.7L1021.7 234.5L1022.7 233.3L1023.7 232.2L1024.7 231L1025.7 229.8L1026.6 228.7L1027.6 227.5L1028.6 226.3L1029.5 225.1L1030.5 223.9L1031.4 222.7L1032.4 221.5L1033.3 220.3L1034.3 219.1L1035.2 217.9L1036.2 216.7L1037.2 215.6L1038.1 214.4L1039.1 213.2L1040.1 212L1041.1 210.9L1042 209.7L1043 208.5L1044 207.4L1045 206.2L1046 205L1046.9 203.8L1047.9 202.6L1048.8 201.4L1049.8 200.2L1050.7 199L1051.7 197.9L1052.7 196.7L1053.7 195.6L1054.8 194.5L1055.9 193.4L1057 192.4L1058.2 191.3L1059.3 190.3L1060.5 189.4L1061.8 188.6L1063.1 187.8L1064.4 187L1065.8 186.3L1067.2 185.7L1068.6 185.2L1070.1 184.8L1071.5 184.4L1073.1 184L1074.6 183.6L1076.1 183.4L1077.6 182.8L1079.1 183L1080.6 183L1082.1 182.1L1083.6 181.2L1085.1 181L1086.5 181L1088 181.1L1089.4 181L1090.8 179.5L1092.3 179.9L1093.6 178.8L1095 177.7L1096.4 176.9L1097.7 176.4L1099 176.1L1100.3 174.6L1101.6 174.4L1102.9 173.1L1104.2 171.7L1105.5 171.6L1106.8 171.2L1108.1 168.9L1109.4 168.9L1110.7 168.1L1112 168.5L1113.4 167.9L1114.8 166L1116.2 166.7L1117.6 165.8L1119 163.9L1120.4 163.7L1121.7 162.2L1123 163L1124.2 161.7L1125.2 161.1L1126.1 159.6" fill="none" stroke="#00cc00" stroke-width="3.25" stroke-linejoin="round"/>
<path d="M1126.1 158.9L1125.7 160.4L1125.3 161.9L1124.9 163.4L1124.4 164.8L1123.8 166.2L1123.2 167.6L1122.5 169L1121.8 170.3L1121 171.6L1120.2 172.9L1119.3 174.2L1118.5 175.5L1117.6 176.8L1116.8 178.1L1116 179.4L1115.1 180.6L1114.2 181.9L1113.3 183.2L1112.4 184.4L1111.5 185.6L1110.6 186.9L1109.7 188.1L1108.8 189.3L1107.8 190.5L1106.9 191.7L1105.9 192.9L1104.9 194.1L1104 195.3L1103 196.5L1102 197.6L1101 198.8L1100 199.9L1098.9 201.1L1097.9 202.2L1096.8 203.3L1095.8 204.4L1094.7 205.5L1093.6 206.6L1092.5 207.6L1091.4 208.7L1090.2 209.7L1089.1 210.7L1087.9 211.7L1086.7 212.6L1085.5 213.6L1084.3 214.5L1083.1 215.5L1081.9 216.4L1080.6 217.3L1079.4 218.2L1078.2 219.1L1076.9 220L1075.7 220.9L1074.4 221.8L1073.1 222.6L1071.8 223.4L1070.5 224.2L1069.2 225L1067.8 225.7L1066.5 226.4L1065.1 227.1L1063.8 227.8L1062.4 228.5L1061 229.2L1059.6 229.8L1058.2 230.5L1056.8 231.1L1055.4 231.7L1054 232.2L1052.6 232.8L1051.1 233.3L1049.7 233.8L1048.2 234.3L1046.8 234.8L1045.3 235.3L1043.8 235.7L1042.4 236.2L1040.9 236.6L1039.4 237L1037.9 237.3L1036.4 237.7L1034.9 238L1033.4 238.3L1031.9 238.6L1030.4 238.9L1028.9 239.1L1027.4 239.3L1025.9 239.5L1024.4 239.7L1022.8 239.8L1021.3 240L1019.8 240.1L1018.3 240.2L1016.7 240.3" fill="none" stroke="#00cc00" stroke-width="2.85" stroke-linejoin="round"/>
<path d="M887.6 389.1L888.1 387.6L888.6 386.2L889.2 384.8L889.7 383.3L890.3 381.9L890.9 380.6L891.6 379.2L892.2 377.8L892.9 376.5L893.6 375.2L894.3 373.9L895.1 372.6L896 371.3L896.8 370.1L897.7 368.8L898.6 367.6L899.5 366.4L900.4 365.2L901.4 363.9L902.3 362.7L903.2 361.5L904 360.2L904.9 359L905.8 357.8L906.7 356.6L907.6 355.3L908.5 354.1L909.4 352.9L910.3 351.7L911.2 350.4L912.1 349.2L913 348L913.8 346.7L914.6 345.4L915.4 344.2L916.2 342.9L917 341.6L917.8 340.3L918.6 339L919.4 337.7L920.1 336.3L920.9 335L921.6 333.7L922.3 332.3L923 331L923.7 329.6L924.3 328.3L925 326.9L925.7 325.6L926.3 324.2L926.9 322.8L927.5 321.4L928.1 320L928.7 318.6L929.3 317.2L929.9 315.8L930.5 314.4L931 313L931.6 311.6L932.1 310.2L932.7 308.8L933.2 307.3L933.7 305.9L934.2 304.5L934.7 303.1L935.2 301.6L935.7 300.2L936.2 298.7L936.7 297.3L937.2 295.9L937.7 294.5L938.2 293L938.7 291.6L939.2 290.1L939.7 288.7L940.1 287.2L940.6 285.8L941.1 284.4L941.7 282.9L942.2 281.5L942.8 280.2L943.4 278.8L944.1 277.4L944.8 276.1L945.5 274.7L946.2 273.4L947 272.1L947.8 270.8L948.7 269.5L949.5 268.3L950.4 267.1L951.4 265.9L952.4 264.7L953.4 263.6L954.5 262.6L955.6 261.6L956.8 260.6L958 259.7L959.2 258.8L960.5 258L961.8 257.1L963.1 256.3L964.4 255.6L965.7 254.8L967 254L968.4 253.3L969.7 252.6L971.1 251.9L972.4 251.2L973.8 250.6L975.2 249.9L976.6 249.3L978 248.8L979.4 248.2L980.8 247.7L982.2 247.2L983.7 246.7L985.1 246.2L986.6 245.7L988 245.3L989.5 244.9L990.9 244.5L992.4 244.1L993.9 243.8L995.4 243.4L996.9 243.1L998.3 242.8L999.8 242.6L1001.3 242.4L1002.8 242.2L1004.3 242L1005.8 241.8L1007.3 241.6L1008.8 241.5L1010.4 241.3L1011.9 241.2L1013.4 241.1L1014.9 241L1016.4 241" fill="none" stroke="#00cc00" stroke-width="2.85" stroke-linejoin="round"/>
<path d="M883.1 389.1L883.5 387.6L884 386.2L884.4 384.7L884.9 383.3L885.4 381.8L885.9 380.4L886.4 378.9L886.9 377.5L887.4 376.1L887.9 374.6L888.4 373.2L889 371.8L889.5 370.4L890.1 369L890.7 367.6L891.3 366.2L891.9 364.8L892.5 363.4L893.1 362L893.7 360.6L894.3 359.2L895 357.8L895.6 356.4L896.2 355.1L896.9 353.7L897.6 352.3L898.2 350.9L898.9 349.6L899.6 348.2L900.3 346.9L901 345.5L901.7 344.1L902.4 342.8L903.1 341.4L903.8 340.1L904.5 338.8L905.2 337.4L905.9 336.1L906.6 334.7L907.3 333.4L908.1 332L908.8 330.7L909.5 329.3L910.2 328L911 326.7L911.8 325.4L912.5 324L913.3 322.7L914.1 321.5L914.9 320.2L915.7 318.9L916.5 317.6L917.4 316.4L918.3 315.1L919.1 313.9L920 312.6L920.9 311.4L921.8 310.2L922.7 308.9L923.6 307.7L924.6 306.5L925.5 305.3L926.4 304.1L927.4 302.9L928.3 301.7L929.2 300.5L930.2 299.3L931.1 298.1L932.1 296.9L933.1 295.7L934.1 294.6L935.1 293.5L936.1 292.3L937.1 291.2L938.2 290.1L939.3 289.1L940.4 288L941.5 287L942.6 285.9L943.7 284.9L944.9 283.9L946.1 282.9L947.2 282L948.4 281L949.6 280.1L950.8 279.2L952.1 278.3L953.3 277.4L954.6 276.6L955.9 275.7L957.1 274.9L958.4 274L959.6 273.2L960.9 272.3L962.1 271.4L963.4 270.5L964.6 269.6L965.8 268.7L967.1 267.9L968.3 267L969.6 266.1L970.8 265.3L972.1 264.5L973.4 263.7L974.7 262.9L976 262.1L977.3 261.3L978.6 260.5L979.9 259.7L981.3 259L982.6 258.2L983.9 257.5L985.2 256.7L986.6 256L987.9 255.3L989.2 254.5L990.6 253.8L991.9 253.1L993.3 252.4L994.6 251.6L995.9 250.9L997.2 250.1L998.6 249.4L999.9 248.6L1001.2 247.9L1002.5 247.1L1003.9 246.4L1005.3 245.8L1006.6 245.1L1008 244.5L1009.4 243.8L1010.8 243.2L1012.2 242.6L1013.6 242.1L1015 241.5L1016.4 241" fill="none" stroke="#00cc00" stroke-width="2.85" stroke-linejoin="round"/>
<path d="M1016.7 240.3L1017.6 239L1018.4 237.8L1019.3 236.5L1020.2 235.2L1021 234L1021.9 232.7L1022.7 231.5L1023.6 230.2L1024.4 228.9L1025.3 227.7L1026.1 226.4L1027 225.1L1027.8 223.9L1028.7 222.6L1029.5 221.3L1030.4 220.1L1031.2 218.8L1032.1 217.5L1032.9 216.3L1033.7 215L1034.6 213.7L1035.4 212.4L1036.3 211.2L1037.1 209.9L1037.9 208.6L1038.8 207.3L1039.6 206.1L1040.4 204.8L1041.3 203.5L1042.1 202.2L1043 201L1043.8 199.7L1044.7 198.5L1045.6 197.2L1046.5 196L1047.4 194.8L1048.4 193.6L1049.3 192.4L1050.3 191.2L1051.3 190L1052.3 188.9L1053.3 187.8L1054.4 186.7L1055.5 185.6L1056.6 184.5L1057.8 183.6L1059 182.7L1060.3 181.9L1061.6 181.2L1063 180.5L1064.4 179.9L1065.9 179.5L1067.4 179.2L1068.9 178.9L1070.4 178.7L1071.9 178.5L1073.4 178.2L1074.9 177.9L1076.4 177.2L1077.9 177.3L1079.3 176.1L1080.6 175.5L1081.9 175.6L1083.2 173.4L1084.4 172.5L1085.7 171.6L1086.9 172.5L1088.1 169.9L1089.3 168.6L1090.5 169.6L1091.7 166.9L1092.8 167.6L1094 166.3L1095.3 165.8L1096.6 165.4L1098 163.8L1099.4 163.7L1100.8 161.2L1102.2 162.4L1103.6 161.1L1104.9 161L1106.3 158.9L1107.7 159.8L1109.1 159.7L1110.6 157L1112 157.1L1113.4 157.1L1114.8 157.2L1116.2 155.2L1117.6 154.5L1119 154L1120.4 154.3L1121.8 153.8L1123 152.1L1124.1 151L1125.1 150L1126.1 148.6" fill="none" stroke="#0000ff" stroke-width="3.25" stroke-linejoin="round"/>
<path d="M1126.1 149L1125.6 150.4L1125 151.8L1124.5 153.3L1123.9 154.7L1123.3 156.1L1122.7 157.5L1122.1 158.9L1121.4 160.3L1120.8 161.6L1120.1 163L1119.4 164.4L1118.7 165.7L1118 167.1L1117.3 168.4L1116.6 169.8L1115.8 171.1L1115.1 172.4L1114.3 173.8L1113.6 175.1L1112.8 176.4L1112 177.7L1111.2 179L1110.4 180.3L1109.6 181.6L1108.8 182.9L1107.9 184.2L1107.1 185.5L1106.3 186.8L1105.5 188.1L1104.7 189.3L1103.8 190.6L1103 191.9L1102.1 193.2L1101.3 194.4L1100.4 195.7L1099.5 196.9L1098.5 198L1097.5 199.2L1096.5 200.4L1095.5 201.5L1094.5 202.6L1093.4 203.7L1092.4 204.8L1091.3 205.9L1090.2 207L1089.1 208.1L1088 209.1L1086.9 210.2L1085.8 211.2L1084.6 212.2L1083.5 213.2L1082.3 214.2L1081.1 215.2L1079.9 216.1L1078.7 217L1077.4 217.9L1076.2 218.7L1074.9 219.6L1073.6 220.4L1072.4 221.3L1071.1 222.1L1069.8 222.9L1068.5 223.7L1067.2 224.5L1065.9 225.3L1064.5 226L1063.2 226.8L1061.9 227.5L1060.5 228.2L1059.2 228.9L1057.8 229.6L1056.4 230.2L1055 230.9L1053.6 231.5L1052.2 232.1L1050.8 232.7L1049.4 233.3L1048 233.8L1046.6 234.4L1045.1 234.9L1043.7 235.4L1042.2 235.9L1040.8 236.3L1039.3 236.8L1037.8 237.2L1036.4 237.5L1034.9 237.9L1033.4 238.2L1031.9 238.4L1030.4 238.7L1028.9 239L1027.3 239.2L1025.8 239.4L1024.3 239.6L1022.8 239.7L1021.3 239.9L1019.8 240L1018.2 240.2L1016.7 240.3" fill="none" stroke="#0000ff" stroke-width="2.85" stroke-linejoin="round"/>
<path d="M902.3 389.1L903.1 387.8L904 386.6L904.8 385.3L905.7 384L906.5 382.8L907.4 381.5L908.2 380.3L909.1 379L910 377.8L910.8 376.5L911.7 375.3L912.6 374.1L913.5 372.8L914.4 371.6L915.3 370.4L916.3 369.2L917.2 368L918.1 366.8L918.9 365.5L919.8 364.3L920.6 363L921.4 361.7L922.2 360.4L923 359.1L923.7 357.8L924.5 356.5L925.2 355.1L925.9 353.8L926.6 352.4L927.3 351L927.9 349.7L928.5 348.3L929 346.9L929.5 345.5L930 344L930.5 342.6L931 341.2L931.4 339.7L931.9 338.2L932.3 336.8L932.8 335.3L933.2 333.9L933.7 332.4L934.2 331L934.7 329.5L935.2 328.1L935.7 326.7L936.1 325.2L936.6 323.8L937.1 322.4L937.6 320.9L938.1 319.5L938.5 318L938.9 316.6L939.4 315.1L939.8 313.7L940.2 312.2L940.6 310.7L941 309.3L941.4 307.8L941.8 306.3L942.2 304.9L942.7 303.4L943.1 302L943.5 300.5L943.9 299.1L944.4 297.6L944.8 296.1L945.2 294.7L945.6 293.2L946.1 291.7L946.5 290.3L947 288.8L947.5 287.4L948 286L948.5 284.6L949.1 283.2L949.7 281.8L950.3 280.4L951 279L951.6 277.7L952.4 276.3L953.1 275L953.9 273.7L954.6 272.4L955.4 271.1L956.3 269.8L957.1 268.5L958 267.3L959 266.1L960 265L961 264L962.2 263L963.4 262.1L964.7 261.2L965.9 260.3L967.2 259.4L968.4 258.6L969.7 257.8L971 257L972.3 256.3L973.7 255.5L975 254.8L976.3 254L977.7 253.3L979 252.6L980.3 251.9L981.7 251.2L983 250.5L984.4 249.8L985.8 249.1L987.1 248.5L988.5 247.9L989.9 247.4L991.4 246.8L992.8 246.3L994.2 245.7L995.7 245.2L997.1 244.8L998.6 244.4L1000 244L1001.5 243.6L1003 243.3L1004.4 243L1005.9 242.6L1007.4 242.3L1008.9 242L1010.4 241.8L1011.9 241.5L1013.4 241.3L1014.9 241.1L1016.4 241" fill="none" stroke="#0000ff" stroke-width="2.85" stroke-linejoin="round"/>
<path d="M896.7 389.1L897.1 387.6L897.5 386.2L898 384.7L898.5 383.3L898.9 381.8L899.4 380.4L899.9 379L900.4 377.5L900.9 376.1L901.5 374.7L902 373.3L902.5 371.8L903.1 370.4L903.6 369L904.2 367.6L904.8 366.2L905.4 364.8L906 363.4L906.6 362L907.3 360.7L907.9 359.3L908.5 357.9L909.1 356.5L909.7 355.1L910.4 353.7L911 352.4L911.6 351L912.3 349.6L912.9 348.2L913.5 346.8L914.2 345.5L914.8 344.1L915.5 342.7L916.2 341.4L916.8 340L917.5 338.6L918.2 337.3L918.9 335.9L919.5 334.6L920.2 333.2L920.9 331.8L921.6 330.5L922.3 329.1L923 327.8L923.7 326.4L924.5 325.1L925.2 323.8L925.9 322.5L926.7 321.2L927.5 319.9L928.3 318.6L929.1 317.3L929.9 316L930.8 314.8L931.6 313.5L932.5 312.3L933.4 311L934.3 309.8L935.2 308.6L936.1 307.4L937 306.1L937.9 304.9L938.9 303.7L939.8 302.5L940.7 301.3L941.7 300.1L942.6 299L943.6 297.8L944.6 296.6L945.6 295.5L946.6 294.3L947.6 293.2L948.7 292.1L949.7 291.1L950.8 290L951.9 288.9L953 287.9L954.1 286.9L955.3 285.9L956.4 284.9L957.6 283.9L958.8 282.9L959.9 282L961.1 281.1L962.4 280.2L963.6 279.3L964.8 278.4L966.1 277.6L967.4 276.7L968.6 275.9L969.9 275L971.1 274.1L972.4 273.3L973.6 272.4L974.9 271.5L976.1 270.7L977.4 269.8L978.6 268.9L979.8 268L981.1 267.2L982.3 266.3L983.6 265.4L984.8 264.6L986.1 263.7L987.3 262.9L988.6 262L989.8 261.1L991.1 260.3L992.3 259.4L993.5 258.5L994.7 257.6L995.9 256.6L997.1 255.7L998.3 254.7L999.5 253.8L1000.7 252.8L1001.8 251.8L1003 250.9L1004.2 249.9L1005.4 249L1006.6 248.1L1007.8 247.2L1009 246.3L1010.3 245.4L1011.5 244.5L1012.7 243.6L1014 242.7L1015.2 241.8L1016.4 241" fill="none" stroke="#0000ff" stroke-width="2.85" stroke-linejoin="round"/>
<path d="M796 389.1H902.3" stroke="#0000ff" stroke-width="1.8" fill="none"/>
</g>
<path d="M722.65 63.3H1162.7V418.6H722.65ZM722.65 418.6v12.8M722.65 63.3v12.8M869.33 418.6v12.8M869.33 63.3v12.8M1016.02 418.6v12.8M1016.02 63.3v12.8M1162.7 418.6v12.8M1162.7 63.3v12.8M795.99 418.6v6.4M795.99 63.3v6.4M942.67 418.6v6.4M942.67 63.3v6.4M1089.36 418.6v6.4M1089.36 63.3v6.4M722.65 63.3h-12.8M1162.7 63.3h-12.8M722.65 152.12h-12.8M1162.7 152.12h-12.8M722.65 240.95h-12.8M1162.7 240.95h-12.8M722.65 329.78h-12.8M1162.7 329.78h-12.8M722.65 418.6h-12.8M1162.7 418.6h-12.8M722.65 107.71h-6.4M1162.7 107.71h-6.4M722.65 196.54h-6.4M1162.7 196.54h-6.4M722.65 285.36h-6.4M1162.7 285.36h-6.4M722.65 374.19h-6.4M1162.7 374.19h-6.4" fill="none" stroke="#000" stroke-width="2.6"/>
<text transform="translate(685.36 74.9) scale(1 1.045)" font-size="32">6</text>
<text transform="translate(685.36 163.72) scale(1 1.045)" font-size="32">3</text>
<text transform="translate(685.2 252.55) scale(1 1.045)" font-size="32">0</text>
<text transform="translate(674.7 341.38) scale(1 1.045)" font-size="32">-3</text>
<text transform="translate(674.7 430.2) scale(1 1.045)" font-size="32">-6</text>
<text transform="translate(703.98 466.8) scale(1 1.045)" font-size="32">-4</text>
<text transform="translate(850.6 466.8) scale(1 1.045)" font-size="32">-2</text>
<text transform="translate(1004.62 466.8) scale(1 1.045)" font-size="32">0</text>
<text transform="translate(1150.8 466.8) scale(1 1.045)" font-size="32">2</text>
<text transform="translate(653.15 335.75) rotate(-90) scale(1 1.03)" font-size="38.4">Current (mA)</text>
<text transform="translate(820.58 508.8) scale(1 1.045)" font-size="39.4">Voltage (V)</text>
<rect x="747.4" y="87.7" width="145.8" height="115.7" fill="#fff" stroke="#000" stroke-width="1.7"/>
<path d="M760.7 105.8h50.4" stroke="#000" stroke-width="3.2" fill="none"/>
<text transform="translate(818.34 110.1) scale(1 1.03)" font-size="22.5">300 K</text>
<path d="M760.7 133.7h50.4" stroke="#ff0000" stroke-width="3.2" fill="none"/>
<text transform="translate(818.68 138.1) scale(1 1.03)" font-size="22.5">400 K</text>
<path d="M760.7 161.6h50.4" stroke="#00b050" stroke-width="3.2" fill="none"/>
<text transform="translate(818.3 166.1) scale(1 1.03)" font-size="22.5">500 K</text>
<path d="M760.7 189.5h50.4" stroke="#0070c0" stroke-width="3.2" fill="none"/>
<text transform="translate(818.06 194.1) scale(1 1.03)" font-size="22.5">600 K</text>
<path d="M1009.3 211.2L1057.9 156.7" stroke="#4472c4" stroke-width="2.5" fill="none"/>
<path d="M1064.6 149.2L1061.3 159.7L1054.6 153.7Z" fill="#4472c4"/>
<path d="M1110.3 212.9L1062.9 242.8" stroke="#4472c4" stroke-width="2.5" fill="none"/>
<path d="M1054.4 248.1L1060.5 239L1065.3 246.6Z" fill="#4472c4"/>
<path d="M969.7 229.2L904.9 276.1" stroke="#4472c4" stroke-width="2.5" fill="none"/>
<path d="M896.8 282L902.3 272.5L907.5 279.8Z" fill="#4472c4"/>
<path d="M963.6 313.6L1003.2 274.8" stroke="#4472c4" stroke-width="2.5" fill="none"/>
<path d="M1010.3 267.8L1006.3 278L1000 271.6Z" fill="#4472c4"/>
<text transform="translate(1007.5 169.4) scale(1 1.045)" font-size="30.5">1</text>
<text transform="translate(1086.62 258.6) scale(1 1.045)" font-size="30.5">2</text>
<text transform="translate(908.71 237.2) scale(1 1.045)" font-size="30.5">3</text>
<text transform="translate(991.12 320.3) scale(1 1.045)" font-size="30.5">4</text>
<text transform="translate(607.44 30.2) scale(1 1.0)" font-size="39.6">(b)</text>
<g>
<path d="M1617 240.9L1618.2 240L1619.5 239.1L1620.7 238.2L1622 237.3L1623.2 236.5L1624.5 235.6L1625.8 234.7L1627 233.9L1628.3 233L1629.6 232.2L1630.9 231.3L1632.2 230.5L1633.5 229.7L1634.7 228.9L1636 228L1637.3 227.2L1638.6 226.3L1639.8 225.5L1641.1 224.6L1642.3 223.7L1643.6 222.8L1644.8 221.9L1646.1 221L1647.4 220.2L1648.6 219.3L1649.9 218.4L1651.1 217.5L1652.4 216.7L1653.6 215.8L1654.9 214.9L1656.1 214L1657.4 213.1L1658.6 212.3L1659.9 211.4L1661.2 210.5L1662.4 209.6L1663.7 208.7L1664.9 207.9L1666.2 207L1667.4 206.1L1668.7 205.1L1669.9 204.2L1671.1 203.3L1672.4 202.3L1673.6 201.5L1674.9 201.1L1676.3 200L1677.7 199.7L1679.1 198.4L1680.5 198.6L1682 198.2L1683.4 197.6L1684.9 196.8L1686.3 196.2L1687.8 196.1L1689.2 196.3L1690.7 194.1L1692.2 193.5L1693.7 194.7L1695.1 194.7L1696.6 193.4L1698.2 192.9L1699.7 193.2L1701.1 191.5L1702.5 191.2L1703.9 190.3L1705.2 190.5L1706.5 189L1707.8 188L1709.2 188.3L1710.5 188.3L1711.9 186L1713.3 186.4L1714.7 185L1716.1 185.4L1717.4 184L1718.7 182.5L1720 181.6L1721.3 180.3L1722.6 180.5L1723.9 179.4L1725.1 178L1726.3 177.5" fill="none" stroke="#000" stroke-width="3.25" stroke-linejoin="round"/>
<path d="M1726.3 177.9L1726.1 179.4L1725.7 181L1725.2 182.4L1724.7 183.8L1724.1 185.2L1723.4 186.5L1722.5 187.8L1721.5 189L1720.5 190.2L1719.5 191.4L1718.5 192.5L1717.4 193.6L1716.3 194.7L1715.2 195.7L1714.1 196.8L1713 197.8L1711.9 198.9L1710.7 199.9L1709.6 201L1708.5 202L1707.3 203L1706.2 204L1705 205.1L1703.9 206L1702.7 207L1701.5 208L1700.3 209L1699.1 210L1697.9 210.9L1696.7 211.9L1695.5 212.8L1694.3 213.7L1693 214.6L1691.8 215.5L1690.5 216.3L1689.2 217.2L1687.9 218L1686.6 218.8L1685.3 219.6L1684 220.3L1682.6 221.1L1681.2 221.8L1679.9 222.4L1678.5 223.1L1677.1 223.8L1675.7 224.4L1674.3 225.1L1672.9 225.7L1671.5 226.4L1670.1 227L1668.7 227.6L1667.3 228.2L1665.9 228.8L1664.5 229.4L1663.1 230L1661.7 230.6L1660.3 231.2L1658.8 231.8L1657.4 232.3L1655.9 232.8L1654.5 233.3L1653 233.7L1651.5 234.2L1650.1 234.6L1648.6 235L1647.1 235.4L1645.6 235.8L1644.2 236.2L1642.7 236.6L1641.2 237L1639.7 237.3L1638.2 237.7L1636.7 238L1635.2 238.2L1633.7 238.5L1632.2 238.8L1630.6 239L1629.1 239.2L1627.6 239.5L1626.1 239.7L1624.6 239.9L1623.1 240.1L1621.5 240.3L1620 240.5L1618.5 240.7L1617 240.9" fill="none" stroke="#000" stroke-width="2.85" stroke-linejoin="round"/>
<path d="M1463.9 388.8L1464.5 387.4L1465 385.9L1465.6 384.5L1466.2 383.1L1466.7 381.7L1467.3 380.3L1467.8 378.9L1468.4 377.5L1469 376.1L1469.5 374.7L1470.1 373.3L1470.6 371.9L1471.1 370.4L1471.7 369L1472.2 367.6L1472.7 366.2L1473.3 364.8L1473.8 363.3L1474.3 361.9L1474.9 360.5L1475.4 359.1L1476 357.7L1476.6 356.3L1477.2 354.9L1477.8 353.5L1478.4 352.2L1479.1 350.8L1479.8 349.5L1480.5 348.1L1481.2 346.8L1481.9 345.5L1482.6 344.1L1483.4 342.8L1484.1 341.5L1484.9 340.2L1485.6 338.8L1486.4 337.5L1487.1 336.2L1487.9 334.9L1488.7 333.6L1489.5 332.3L1490.2 331L1491 329.7L1491.8 328.4L1492.6 327.1L1493.4 325.8L1494.2 324.6L1495.1 323.3L1495.9 322L1496.8 320.8L1497.6 319.5L1498.5 318.3L1499.4 317.1L1500.3 315.9L1501.2 314.7L1502.1 313.4L1503 312.3L1504 311.1L1504.9 309.9L1505.8 308.7L1506.8 307.5L1507.7 306.3L1508.7 305.1L1509.6 303.9L1510.5 302.7L1511.5 301.6L1512.4 300.4L1513.4 299.2L1514.3 298L1515.3 296.8L1516.2 295.7L1517.2 294.5L1518.1 293.3L1519.1 292.1L1520 290.9L1520.9 289.7L1521.8 288.5L1522.7 287.3L1523.7 286.1L1524.6 284.9L1525.5 283.7L1526.5 282.6L1527.5 281.4L1528.5 280.2L1529.4 279L1530.4 277.9L1531.4 276.7L1532.4 275.6L1533.5 274.5L1534.5 273.4L1535.6 272.3L1536.7 271.3L1537.8 270.3L1538.9 269.4L1540.1 268.4L1541.3 267.5L1542.6 266.6L1543.8 265.8L1545.1 264.9L1546.4 264.1L1547.7 263.3L1549 262.6L1550.3 261.8L1551.6 261.1L1553 260.4L1554.4 259.7L1555.7 259.1L1557.1 258.4L1558.5 257.8L1559.9 257.2L1561.2 256.6L1562.6 256L1564 255.4L1565.4 254.8L1566.8 254.3L1568.3 253.7L1569.7 253.2L1571.1 252.7L1572.5 252.1L1573.9 251.6L1575.4 251.1L1576.8 250.6L1578.2 250.1L1579.7 249.6L1581.1 249.1L1582.5 248.6L1584 248.2L1585.4 247.7L1586.9 247.3L1588.3 246.8L1589.8 246.4L1591.2 246L1592.7 245.6L1594.1 245.2L1595.6 244.8L1597.1 244.4L1598.5 244.1L1600 243.7L1601.5 243.4L1603 243.1L1604.5 242.8L1606 242.5L1607.4 242.2L1608.9 242L1610.4 241.8L1611.9 241.5L1613.4 241.3L1614.9 241.1L1616.4 241" fill="none" stroke="#000" stroke-width="2.85" stroke-linejoin="round"/>
<path d="M1466.7 388.8L1467.3 387.4L1467.9 386L1468.6 384.6L1469.2 383.2L1469.8 381.8L1470.4 380.4L1471 379.1L1471.6 377.7L1472.2 376.3L1472.8 374.9L1473.4 373.5L1474 372.1L1474.6 370.7L1475.2 369.3L1475.8 367.9L1476.4 366.5L1477 365.2L1477.6 363.8L1478.2 362.4L1478.8 361L1479.4 359.6L1480.1 358.2L1480.7 356.9L1481.4 355.5L1482 354.2L1482.7 352.8L1483.4 351.5L1484.1 350.1L1484.8 348.8L1485.5 347.4L1486.2 346.1L1487 344.8L1487.7 343.5L1488.4 342.1L1489.2 340.8L1489.9 339.5L1490.7 338.2L1491.5 336.9L1492.2 335.6L1493 334.3L1493.8 333L1494.6 331.7L1495.4 330.4L1496.2 329.2L1497.1 327.9L1497.9 326.6L1498.7 325.3L1499.5 324.1L1500.3 322.8L1501.2 321.5L1502 320.3L1502.9 319L1503.7 317.8L1504.6 316.5L1505.5 315.3L1506.3 314.1L1507.2 312.8L1508.1 311.6L1508.9 310.3L1509.8 309.1L1510.7 307.9L1511.5 306.6L1512.4 305.3L1513.2 304.1L1514 302.8L1514.8 301.5L1515.6 300.2L1516.4 298.9L1517.3 297.7L1518.1 296.4L1519 295.2L1519.9 294L1520.8 292.8L1521.7 291.6L1522.7 290.4L1523.7 289.3L1524.7 288.1L1525.7 287L1526.7 285.9L1527.8 284.8L1528.8 283.7L1529.9 282.7L1531 281.6L1532.1 280.6L1533.3 279.6L1534.4 278.6L1535.6 277.7L1536.8 276.7L1538 275.8L1539.2 274.9L1540.4 274L1541.6 273.1L1542.9 272.2L1544.1 271.3L1545.4 270.5L1546.6 269.6L1547.9 268.9L1549.2 268.1L1550.5 267.4L1551.9 266.7L1553.2 266L1554.6 265.3L1556 264.7L1557.3 264L1558.7 263.4L1560.1 262.7L1561.4 262L1562.8 261.3L1564.1 260.6L1565.5 259.9L1566.8 259.2L1568.2 258.6L1569.5 257.9L1570.9 257.3L1572.3 256.7L1573.7 256.1L1575.1 255.5L1576.5 255L1577.9 254.4L1579.3 253.9L1580.7 253.3L1582.1 252.8L1583.5 252.2L1584.9 251.6L1586.3 251.1L1587.7 250.5L1589.1 249.9L1590.5 249.4L1592 248.8L1593.4 248.3L1594.8 247.7L1596.2 247.2L1597.6 246.7L1599 246.2L1600.5 245.7L1601.9 245.2L1603.3 244.7L1604.8 244.2L1606.2 243.8L1607.7 243.4L1609.1 242.9L1610.6 242.5L1612 242.1L1613.5 241.7L1615 241.3L1616.4 241" fill="none" stroke="#000" stroke-width="2.85" stroke-linejoin="round"/>
<path d="M1617 240.9L1618.2 240L1619.5 239.1L1620.7 238.2L1621.9 237.3L1623.2 236.4L1624.4 235.5L1625.6 234.6L1626.8 233.7L1628 232.8L1629.2 231.8L1630.4 230.9L1631.6 229.9L1632.8 229L1634 228L1635.2 227.1L1636.4 226.1L1637.5 225.2L1638.7 224.2L1639.9 223.3L1641.1 222.3L1642.3 221.4L1643.5 220.4L1644.7 219.5L1645.9 218.5L1647.1 217.6L1648.2 216.6L1649.4 215.6L1650.6 214.7L1651.8 213.7L1653 212.8L1654.2 211.8L1655.4 210.9L1656.6 209.9L1657.8 209L1659 208.1L1660.2 207.2L1661.5 206.3L1662.7 205.4L1664 204.6L1665.3 203.8L1666.6 203L1667.9 202.3L1669.2 201.5L1670.6 200.8L1672 200.1L1673.4 199.6L1674.7 198.7L1676.2 198.7L1677.6 197.8L1679 197.4L1680.4 196.7L1681.9 196.8L1683.3 196.4L1684.8 195.5L1686.3 194.9L1687.7 195.1L1689.2 195.1L1690.7 193.7L1692.2 194.1L1693.7 194.3L1695.1 192.6L1696.6 191.6L1698 191.1L1699.5 191.7L1700.9 191L1702.2 191L1703.5 190L1704.7 187.6L1705.9 186.5L1707.1 185.8L1708.4 184.7L1709.7 185.2L1711 184.8L1712.4 184.2L1713.7 181.9L1715 182.6L1716.1 180.3L1717.2 179.5L1718.3 179.1L1719.4 176.5L1720.4 175.3L1721.4 176L1722.4 173.6L1723.4 172.6L1724.4 172L1725.4 171L1726.3 168.2" fill="none" stroke="#f00" stroke-width="3.25" stroke-linejoin="round"/>
<path d="M1726.3 169.4L1726 170.9L1725.7 172.4L1725.2 173.9L1724.7 175.3L1724.2 176.7L1723.5 178L1722.7 179.3L1721.8 180.6L1720.9 181.9L1720 183.1L1719.2 184.3L1718.3 185.6L1717.4 186.8L1716.4 188L1715.5 189.2L1714.5 190.4L1713.5 191.5L1712.6 192.7L1711.6 193.9L1710.6 195L1709.6 196.2L1708.6 197.3L1707.5 198.5L1706.5 199.6L1705.5 200.7L1704.4 201.7L1703.3 202.8L1702.2 203.8L1701.1 204.9L1699.9 205.9L1698.7 206.8L1697.6 207.8L1696.4 208.8L1695.2 209.7L1694 210.6L1692.8 211.6L1691.5 212.5L1690.3 213.3L1689 214.2L1687.8 215.1L1686.5 215.9L1685.2 216.8L1684 217.6L1682.7 218.4L1681.4 219.2L1680.1 220L1678.8 220.8L1677.5 221.5L1676.1 222.3L1674.8 223L1673.4 223.7L1672.1 224.4L1670.7 225.1L1669.4 225.8L1668 226.4L1666.6 227.1L1665.2 227.7L1663.9 228.4L1662.5 229.1L1661.1 229.7L1659.7 230.3L1658.3 230.9L1656.9 231.5L1655.5 232L1654 232.5L1652.6 233L1651.1 233.4L1649.7 233.9L1648.2 234.3L1646.8 234.8L1645.3 235.2L1643.8 235.6L1642.4 236.1L1640.9 236.5L1639.4 236.9L1638 237.2L1636.5 237.6L1635 237.9L1633.5 238.2L1632 238.5L1630.5 238.8L1629 239L1627.5 239.3L1626 239.6L1624.5 239.8L1623 240L1621.5 240.3L1620 240.5L1618.5 240.7L1617 240.9" fill="none" stroke="#f00" stroke-width="2.85" stroke-linejoin="round"/>
<path d="M1473.5 388.8L1474 387.3L1474.6 385.9L1475.1 384.5L1475.6 383.1L1476.2 381.6L1476.7 380.2L1477.3 378.8L1477.9 377.4L1478.5 376L1479.1 374.6L1479.7 373.2L1480.3 371.8L1480.9 370.5L1481.6 369.1L1482.2 367.7L1482.8 366.3L1483.5 365L1484.2 363.6L1484.8 362.2L1485.5 360.9L1486.2 359.5L1486.8 358.1L1487.5 356.8L1488.2 355.4L1488.9 354.1L1489.6 352.7L1490.3 351.4L1491 350L1491.7 348.7L1492.5 347.4L1493.2 346L1493.9 344.7L1494.7 343.4L1495.4 342.1L1496.2 340.7L1497 339.4L1497.7 338.1L1498.5 336.9L1499.3 335.6L1500.2 334.3L1501 333L1501.8 331.7L1502.6 330.4L1503.4 329.2L1504.3 327.9L1505.1 326.6L1505.9 325.3L1506.7 324L1507.5 322.7L1508.3 321.4L1509.1 320.1L1509.9 318.8L1510.7 317.6L1511.5 316.3L1512.2 315L1513 313.7L1513.8 312.4L1514.6 311.1L1515.4 309.8L1516.2 308.5L1517.1 307.2L1517.9 305.9L1518.7 304.6L1519.5 303.4L1520.3 302.1L1521.1 300.8L1521.9 299.5L1522.7 298.2L1523.6 297L1524.4 295.7L1525.3 294.5L1526.1 293.2L1527 291.9L1527.9 290.7L1528.7 289.5L1529.6 288.2L1530.5 287L1531.4 285.8L1532.3 284.5L1533.2 283.3L1534.1 282.1L1535 280.8L1535.9 279.6L1536.9 278.4L1537.8 277.2L1538.8 276.1L1539.8 275L1540.9 273.9L1542 272.8L1543.1 271.8L1544.2 270.8L1545.4 269.8L1546.6 268.8L1547.8 267.9L1549 267L1550.2 266.2L1551.5 265.4L1552.8 264.6L1554.1 263.8L1555.4 263L1556.8 262.3L1558.1 261.5L1559.4 260.8L1560.7 260L1562.1 259.3L1563.4 258.5L1564.7 257.8L1566 257L1567.4 256.3L1568.7 255.6L1570 254.9L1571.4 254.2L1572.8 253.6L1574.2 253L1575.6 252.4L1577 251.9L1578.4 251.3L1579.8 250.8L1581.3 250.2L1582.7 249.7L1584.1 249.2L1585.5 248.7L1587 248.1L1588.4 247.6L1589.8 247.1L1591.3 246.6L1592.7 246.2L1594.2 245.7L1595.6 245.3L1597.1 244.9L1598.6 244.5L1600 244.2L1601.5 243.8L1603 243.5L1604.5 243.1L1606 242.8L1607.5 242.5L1608.9 242.2L1610.4 242L1611.9 241.7L1613.4 241.4L1614.9 241.2L1616.4 241" fill="none" stroke="#f00" stroke-width="2.85" stroke-linejoin="round"/>
<path d="M1476.3 388.8L1476.9 387.3L1477.4 385.9L1477.9 384.5L1478.5 383.1L1479.1 381.7L1479.6 380.2L1480.2 378.8L1480.8 377.4L1481.4 376L1482 374.6L1482.6 373.2L1483.2 371.8L1483.8 370.5L1484.4 369.1L1485.1 367.7L1485.7 366.3L1486.4 364.9L1487 363.5L1487.7 362.2L1488.3 360.8L1489 359.4L1489.7 358.1L1490.4 356.7L1491.1 355.4L1491.8 354L1492.5 352.7L1493.2 351.3L1493.9 350L1494.6 348.6L1495.4 347.3L1496.1 346L1496.8 344.7L1497.6 343.3L1498.4 342L1499.1 340.7L1499.9 339.4L1500.7 338.1L1501.5 336.8L1502.3 335.5L1503.1 334.3L1504 333L1504.8 331.7L1505.6 330.4L1506.4 329.1L1507.2 327.8L1508.1 326.6L1508.9 325.3L1509.7 324L1510.5 322.7L1511.3 321.4L1512 320.1L1512.8 318.8L1513.6 317.5L1514.4 316.1L1515.2 314.8L1516 313.5L1516.8 312.3L1517.6 311L1518.4 309.7L1519.3 308.4L1520.1 307.2L1521 306L1521.9 304.7L1522.9 303.5L1523.8 302.3L1524.7 301.2L1525.7 300L1526.7 298.8L1527.7 297.6L1528.6 296.5L1529.6 295.3L1530.6 294.1L1531.6 293L1532.6 291.8L1533.5 290.6L1534.5 289.5L1535.6 288.3L1536.6 287.2L1537.7 286.1L1538.8 285.1L1539.9 284.1L1541 283.1L1542.2 282.2L1543.5 281.3L1544.7 280.4L1545.9 279.4L1547.2 278.6L1548.4 277.7L1549.6 276.7L1550.8 275.9L1552.1 275L1553.3 274.1L1554.5 273.2L1555.8 272.3L1557.1 271.5L1558.3 270.6L1559.6 269.8L1560.9 269L1562.2 268.2L1563.5 267.4L1564.8 266.6L1566.1 265.8L1567.4 265L1568.7 264.3L1570 263.5L1571.3 262.7L1572.6 261.9L1573.9 261.1L1575.2 260.3L1576.5 259.5L1577.8 258.7L1579.1 258L1580.4 257.2L1581.7 256.4L1583.1 255.7L1584.4 255L1585.8 254.3L1587.1 253.6L1588.5 252.9L1589.8 252.3L1591.2 251.6L1592.6 250.9L1594 250.3L1595.3 249.6L1596.7 249L1598.1 248.3L1599.5 247.7L1600.9 247.1L1602.3 246.5L1603.7 245.9L1605.1 245.3L1606.5 244.7L1607.9 244.1L1609.3 243.6L1610.7 243L1612.1 242.5L1613.6 242L1615 241.5L1616.4 241" fill="none" stroke="#f00" stroke-width="2.85" stroke-linejoin="round"/>
<path d="M1617 240.9L1618.1 239.8L1619.2 238.7L1620.2 237.7L1621.3 236.6L1622.4 235.5L1623.5 234.5L1624.6 233.4L1625.7 232.3L1626.8 231.2L1627.9 230.2L1628.9 229.1L1630 228L1631.1 226.9L1632.2 225.8L1633.2 224.7L1634.3 223.6L1635.4 222.6L1636.5 221.5L1637.6 220.4L1638.7 219.4L1639.8 218.3L1640.9 217.3L1642.1 216.3L1643.2 215.3L1644.3 214.2L1645.5 213.2L1646.6 212.2L1647.8 211.3L1649 210.3L1650.2 209.3L1651.4 208.3L1652.5 207.4L1653.7 206.4L1655 205.5L1656.2 204.6L1657.4 203.7L1658.6 202.8L1659.8 201.8L1661.1 200.9L1662.3 200L1663.6 199.2L1664.9 198.4L1666.2 197.6L1667.5 196.8L1668.8 196.1L1670.2 195.4L1671.6 194.7L1673 194.1L1674.4 193.6L1675.9 193L1677.4 192.9L1678.9 193L1680.3 191.8L1681.8 191.6L1683.2 190.2L1684.7 190L1686.1 190.3L1687.5 188.4L1688.8 189.6L1690.2 188.9L1691.5 186.2L1692.8 187.4L1694.1 185.2L1695.4 185.3L1696.6 184.4L1697.8 182.4L1699 182.3L1700.2 181.3L1701.5 180.8L1702.7 178.6L1703.9 178.8L1705.2 178.4L1706.4 176.9L1707.7 175.7L1708.9 173.8L1710.2 173.9L1711.6 172.8L1712.9 172.9L1714.2 172L1715.4 170.9L1716.6 169L1717.8 169.2L1718.9 168.1L1720 165.9L1721 166.5L1722 164.8L1723 162.3L1723.9 163L1724.8 159.9L1725.6 159L1726.3 158.6" fill="none" stroke="#00cc00" stroke-width="3.25" stroke-linejoin="round"/>
<path d="M1726.3 158.1L1726 159.6L1725.6 161.1L1725.2 162.5L1724.7 163.9L1724.2 165.4L1723.6 166.7L1723 168.1L1722.3 169.5L1721.6 170.8L1720.8 172.2L1720.1 173.5L1719.3 174.8L1718.6 176.1L1717.8 177.4L1717 178.7L1716.2 180L1715.4 181.3L1714.5 182.5L1713.6 183.8L1712.8 185L1711.9 186.2L1710.9 187.4L1710 188.6L1709 189.8L1708 190.9L1707 192.1L1706 193.2L1705 194.4L1704 195.5L1703 196.6L1701.9 197.7L1700.9 198.8L1699.8 199.9L1698.8 201L1697.7 202.1L1696.6 203.1L1695.5 204.1L1694.4 205.2L1693.2 206.2L1692.1 207.1L1690.9 208.1L1689.7 209.1L1688.5 210L1687.3 210.9L1686.1 211.8L1684.9 212.8L1683.7 213.7L1682.4 214.6L1681.2 215.4L1680 216.3L1678.7 217.2L1677.5 218L1676.2 218.9L1674.9 219.7L1673.6 220.5L1672.4 221.3L1671.1 222.1L1669.8 222.9L1668.4 223.7L1667.1 224.4L1665.8 225.1L1664.5 225.9L1663.1 226.6L1661.8 227.3L1660.4 227.9L1659 228.6L1657.7 229.2L1656.3 229.9L1654.9 230.5L1653.5 231.1L1652.1 231.6L1650.7 232.2L1649.3 232.7L1647.8 233.3L1646.4 233.8L1645 234.3L1643.6 234.9L1642.1 235.4L1640.7 235.9L1639.3 236.4L1637.8 236.8L1636.4 237.2L1634.9 237.6L1633.4 237.9L1631.9 238.2L1630.4 238.6L1628.9 238.9L1627.5 239.1L1626 239.4L1624.5 239.7L1623 240L1621.5 240.2L1620 240.4L1618.5 240.7L1617 240.9" fill="none" stroke="#00cc00" stroke-width="2.85" stroke-linejoin="round"/>
<path d="M1487.6 388.8L1488.1 387.3L1488.7 385.9L1489.2 384.5L1489.7 383L1490.2 381.6L1490.7 380.2L1491.3 378.8L1491.8 377.3L1492.4 375.9L1492.9 374.5L1493.4 373.1L1494 371.7L1494.5 370.2L1495.1 368.8L1495.6 367.4L1496.2 366L1496.7 364.6L1497.3 363.2L1497.8 361.8L1498.4 360.3L1499 358.9L1499.6 357.6L1500.2 356.2L1500.9 354.8L1501.5 353.4L1502.2 352L1502.8 350.7L1503.5 349.3L1504.2 348L1504.9 346.6L1505.6 345.3L1506.3 343.9L1507 342.6L1507.7 341.2L1508.4 339.9L1509.1 338.5L1509.8 337.2L1510.5 335.8L1511.2 334.5L1511.9 333.1L1512.6 331.8L1513.3 330.5L1514.1 329.1L1514.8 327.8L1515.5 326.4L1516.2 325.1L1516.9 323.8L1517.7 322.4L1518.4 321.1L1519.1 319.7L1519.8 318.4L1520.5 317.1L1521.3 315.7L1522 314.4L1522.7 313.1L1523.4 311.7L1524.2 310.4L1524.9 309.1L1525.6 307.7L1526.3 306.4L1527 305L1527.7 303.7L1528.3 302.3L1529 300.9L1529.7 299.6L1530.4 298.2L1531 296.9L1531.7 295.5L1532.4 294.1L1533 292.8L1533.7 291.4L1534.3 290L1535 288.6L1535.7 287.3L1536.4 285.9L1537.1 284.6L1537.9 283.3L1538.7 282L1539.6 280.7L1540.5 279.5L1541.4 278.3L1542.3 277.1L1543.3 276L1544.4 274.9L1545.4 273.8L1546.6 272.8L1547.7 271.8L1548.9 270.8L1550.1 269.9L1551.3 269L1552.5 268.1L1553.8 267.2L1555 266.3L1556.3 265.5L1557.6 264.7L1558.9 263.9L1560.2 263.2L1561.5 262.4L1562.9 261.6L1564.2 260.9L1565.5 260.2L1566.9 259.4L1568.2 258.7L1569.5 258L1570.9 257.3L1572.2 256.6L1573.6 255.9L1574.9 255.2L1576.3 254.5L1577.6 253.8L1579 253.1L1580.4 252.5L1581.7 251.8L1583.1 251.2L1584.5 250.6L1585.9 250L1587.3 249.4L1588.7 248.9L1590.2 248.3L1591.6 247.8L1593 247.3L1594.4 246.7L1595.9 246.2L1597.3 245.7L1598.7 245.2L1600.2 244.8L1601.6 244.3L1603.1 243.9L1604.6 243.5L1606 243.1L1607.5 242.8L1609 242.4L1610.5 242.1L1611.9 241.8L1613.4 241.5L1614.9 241.2L1616.4 241" fill="none" stroke="#00cc00" stroke-width="2.85" stroke-linejoin="round"/>
<path d="M1490.5 388.8L1491 387.3L1491.5 385.9L1492 384.5L1492.5 383L1493.1 381.6L1493.6 380.2L1494.1 378.8L1494.7 377.4L1495.2 375.9L1495.8 374.5L1496.4 373.1L1496.9 371.7L1497.5 370.3L1498.1 368.9L1498.7 367.5L1499.2 366.1L1499.8 364.7L1500.4 363.3L1501 361.9L1501.7 360.5L1502.3 359.1L1502.9 357.7L1503.5 356.4L1504.2 355L1504.8 353.6L1505.5 352.3L1506.2 350.9L1506.8 349.5L1507.5 348.2L1508.2 346.8L1508.9 345.5L1509.6 344.1L1510.3 342.8L1511 341.4L1511.7 340.1L1512.4 338.7L1513.1 337.4L1513.8 336L1514.5 334.7L1515.2 333.3L1515.9 332L1516.6 330.6L1517.3 329.3L1518.1 328L1518.8 326.6L1519.5 325.3L1520.3 324L1521 322.7L1521.8 321.3L1522.6 320L1523.3 318.7L1524.1 317.4L1524.9 316.1L1525.7 314.8L1526.5 313.5L1527.3 312.2L1528.2 311L1529 309.7L1529.9 308.5L1530.8 307.3L1531.7 306L1532.6 304.8L1533.6 303.7L1534.5 302.5L1535.5 301.3L1536.5 300.1L1537.5 299L1538.5 297.8L1539.4 296.7L1540.4 295.5L1541.4 294.4L1542.4 293.2L1543.4 292.1L1544.4 290.9L1545.5 289.8L1546.5 288.7L1547.6 287.6L1548.6 286.5L1549.7 285.5L1550.8 284.4L1551.9 283.3L1553 282.3L1554.1 281.3L1555.3 280.3L1556.4 279.3L1557.6 278.3L1558.7 277.3L1559.9 276.4L1561.1 275.4L1562.3 274.5L1563.6 273.7L1564.8 272.8L1566.1 271.9L1567.3 271.1L1568.6 270.2L1569.9 269.4L1571.1 268.5L1572.4 267.6L1573.6 266.8L1574.8 265.9L1576.1 265L1577.3 264.2L1578.6 263.3L1579.8 262.4L1581.1 261.5L1582.3 260.7L1583.6 259.8L1584.8 258.9L1586 258L1587.3 257.1L1588.5 256.2L1589.7 255.3L1591 254.5L1592.2 253.6L1593.5 252.8L1594.8 252L1596.1 251.2L1597.4 250.5L1598.7 249.8L1600.1 249L1601.4 248.3L1602.8 247.6L1604.1 246.9L1605.5 246.2L1606.8 245.5L1608.2 244.8L1609.6 244.2L1610.9 243.5L1612.3 242.9L1613.7 242.2L1615.1 241.6L1616.4 241" fill="none" stroke="#00cc00" stroke-width="2.85" stroke-linejoin="round"/>
<path d="M1617 240.9L1618 239.7L1619 238.6L1619.9 237.4L1620.9 236.2L1621.9 235L1622.8 233.9L1623.8 232.7L1624.7 231.5L1625.7 230.3L1626.6 229.1L1627.5 227.9L1628.5 226.7L1629.4 225.5L1630.2 224.2L1631.1 223L1632 221.7L1632.9 220.5L1633.7 219.2L1634.6 218L1635.5 216.8L1636.4 215.5L1637.3 214.3L1638.2 213.1L1639.1 211.9L1640.1 210.7L1641 209.6L1642 208.4L1643 207.2L1644 206.1L1645 204.9L1646 203.8L1647 202.6L1647.9 201.4L1648.9 200.3L1649.9 199.1L1650.9 197.9L1651.9 196.7L1652.9 195.6L1654 194.6L1655.1 193.6L1656.3 192.6L1657.5 191.7L1658.7 190.8L1660 190L1661.3 189.2L1662.6 188.4L1663.9 187.6L1665.2 186.9L1666.6 186.1L1667.9 185.4L1669.3 184.7L1670.7 184.1L1672.1 183.5L1673.4 182.8L1674.7 182.2L1676 181.2L1677.2 180.2L1678.4 179.1L1679.6 177.8L1680.7 177.7L1681.8 176.7L1682.8 175.3L1683.9 174.6L1684.8 172.6L1685.8 171.2L1686.7 170.2L1687.6 170.2L1688.5 166.9L1689.4 166.8L1690.3 165L1691.1 165L1692 162.7L1692.8 161.3L1693.6 160.2L1694.5 159.3L1695.4 158.7L1696.4 156.5L1697.4 156.6L1698.5 153.8L1699.7 153.2L1700.9 151.8L1702.1 150.9L1703.3 151.5L1704.5 150.5L1705.8 148.4L1707.1 147.7L1708.4 147.4L1709.7 147.4L1711 146.8L1712.2 145.7L1713.4 144.4L1714.6 142.4L1715.7 142L1716.8 140.4L1717.9 140.2L1718.9 139.2L1719.9 137.1L1720.9 136.1L1721.8 136.1L1722.8 133.1L1723.7 133.8L1724.6 132.8L1725.5 131.7L1726.3 129" fill="none" stroke="#0000ff" stroke-width="3.25" stroke-linejoin="round"/>
<path d="M1726.3 129.3L1726.1 130.8L1725.7 132.3L1725.4 133.8L1725 135.3L1724.6 136.7L1724.2 138.2L1723.8 139.6L1723.3 141.1L1722.8 142.5L1722.2 143.9L1721.7 145.3L1721.1 146.7L1720.5 148.1L1719.9 149.5L1719.2 150.9L1718.6 152.3L1717.9 153.6L1717.2 155L1716.5 156.3L1715.8 157.7L1715 159L1714.3 160.3L1713.6 161.7L1712.8 163L1712.1 164.3L1711.3 165.6L1710.5 166.9L1709.8 168.2L1709 169.5L1708.1 170.8L1707.3 172L1706.5 173.3L1705.6 174.6L1704.7 175.8L1703.8 177L1702.9 178.3L1702 179.5L1701.1 180.7L1700.2 181.9L1699.3 183.1L1698.4 184.3L1697.4 185.5L1696.5 186.7L1695.5 187.9L1694.5 189L1693.4 190.1L1692.4 191.1L1691.2 192.1L1690.1 193.2L1688.9 194.1L1687.8 195.1L1686.6 196.1L1685.5 197.1L1684.3 198.1L1683.2 199.2L1682.1 200.2L1681 201.2L1679.9 202.2L1678.7 203.3L1677.6 204.3L1676.5 205.3L1675.3 206.3L1674.2 207.2L1673 208.2L1671.8 209.2L1670.6 210.1L1669.4 211.1L1668.2 212L1667 212.9L1665.8 213.8L1664.6 214.7L1663.4 215.6L1662.1 216.5L1660.9 217.3L1659.6 218.2L1658.4 219.1L1657.1 219.9L1655.9 220.8L1654.6 221.7L1653.4 222.6L1652.2 223.4L1650.9 224.3L1649.7 225.2L1648.4 226.1L1647.2 226.9L1645.9 227.7L1644.6 228.5L1643.3 229.3L1642 230.1L1640.7 230.9L1639.4 231.7L1638.1 232.4L1636.7 233.1L1635.4 233.7L1634 234.4L1632.6 235L1631.2 235.6L1629.8 236.2L1628.4 236.8L1627 237.3L1625.6 237.9L1624.2 238.4L1622.7 238.9L1621.3 239.4L1619.9 239.9L1618.4 240.4L1617 240.9" fill="none" stroke="#0000ff" stroke-width="2.85" stroke-linejoin="round"/>
<path d="M1507.4 388.8L1508 387.4L1508.5 385.9L1509.1 384.5L1509.7 383.1L1510.2 381.7L1510.8 380.3L1511.4 378.9L1511.9 377.5L1512.5 376.1L1513.1 374.7L1513.7 373.3L1514.3 372L1514.8 370.6L1515.4 369.2L1516 367.8L1516.6 366.4L1517.2 365L1517.8 363.6L1518.4 362.2L1519 360.8L1519.6 359.4L1520.2 358.1L1520.8 356.7L1521.5 355.3L1522.1 353.9L1522.7 352.5L1523.3 351.2L1524 349.8L1524.6 348.4L1525.3 347L1525.9 345.7L1526.5 344.3L1527.2 342.9L1527.9 341.6L1528.5 340.2L1529.2 338.9L1529.9 337.5L1530.6 336.2L1531.3 334.8L1532 333.5L1532.6 332.1L1533.3 330.8L1534 329.4L1534.6 328L1535.3 326.7L1535.9 325.3L1536.6 323.9L1537.2 322.6L1537.8 321.2L1538.4 319.8L1539 318.4L1539.6 317L1540.2 315.6L1540.7 314.2L1541.2 312.8L1541.7 311.3L1542.2 309.9L1542.7 308.5L1543.2 307.1L1543.7 305.6L1544.3 304.2L1544.8 302.8L1545.3 301.4L1545.9 300L1546.5 298.6L1547 297.2L1547.6 295.8L1548.2 294.4L1548.8 293L1549.5 291.6L1550.1 290.3L1550.8 289L1551.6 287.6L1552.3 286.3L1553.1 285L1553.9 283.7L1554.7 282.4L1555.5 281.2L1556.4 279.9L1557.3 278.7L1558.2 277.5L1559.2 276.4L1560.2 275.2L1561.2 274.1L1562.2 273L1563.3 271.9L1564.3 270.8L1565.5 269.8L1566.6 268.8L1567.7 267.8L1568.9 266.9L1570.1 265.9L1571.3 265L1572.5 264.1L1573.7 263.2L1574.9 262.3L1576.2 261.4L1577.4 260.5L1578.7 259.7L1579.9 258.8L1581.2 258L1582.5 257.2L1583.7 256.4L1585 255.5L1586.3 254.7L1587.6 254L1588.9 253.2L1590.2 252.4L1591.5 251.7L1592.8 250.9L1594.1 250.2L1595.5 249.5L1596.8 248.7L1598.1 248L1599.5 247.3L1600.8 246.6L1602.2 246L1603.6 245.3L1605 244.8L1606.4 244.2L1607.8 243.7L1609.2 243.2L1610.6 242.7L1612.1 242.2L1613.5 241.8L1615 241.4L1616.4 241" fill="none" stroke="#0000ff" stroke-width="2.85" stroke-linejoin="round"/>
<path d="M1510.2 388.8L1510.8 387.3L1511.3 385.9L1511.9 384.5L1512.5 383.1L1513 381.7L1513.6 380.2L1514.2 378.8L1514.7 377.4L1515.3 376L1515.9 374.6L1516.5 373.2L1517.1 371.8L1517.6 370.4L1518.2 369L1518.8 367.6L1519.4 366.2L1520 364.8L1520.6 363.4L1521.3 362L1521.9 360.6L1522.5 359.2L1523.1 357.8L1523.7 356.4L1524.3 355L1525 353.6L1525.6 352.2L1526.2 350.8L1526.9 349.5L1527.5 348.1L1528.2 346.7L1528.8 345.3L1529.5 344L1530.2 342.6L1530.9 341.2L1531.6 339.9L1532.3 338.5L1533 337.2L1533.7 335.9L1534.5 334.5L1535.2 333.2L1536 331.9L1536.7 330.5L1537.5 329.2L1538.3 327.9L1539 326.6L1539.8 325.3L1540.7 324L1541.5 322.7L1542.3 321.4L1543.1 320.2L1544 318.9L1544.8 317.6L1545.7 316.4L1546.5 315.1L1547.4 313.9L1548.3 312.6L1549.2 311.4L1550.1 310.2L1551 308.9L1551.9 307.7L1552.8 306.5L1553.8 305.3L1554.7 304.1L1555.6 302.9L1556.6 301.7L1557.5 300.5L1558.5 299.3L1559.5 298.2L1560.5 297L1561.5 295.8L1562.4 294.7L1563.4 293.5L1564.4 292.4L1565.4 291.2L1566.4 290.1L1567.4 288.9L1568.5 287.8L1569.5 286.6L1570.5 285.5L1571.5 284.4L1572.5 283.2L1573.6 282.1L1574.6 281L1575.7 279.9L1576.7 278.8L1577.8 277.7L1578.8 276.6L1579.9 275.5L1581 274.4L1582 273.3L1583.1 272.3L1584.2 271.2L1585.3 270.1L1586.4 269.1L1587.5 268L1588.6 266.9L1589.7 265.9L1590.8 264.8L1591.9 263.8L1593 262.7L1594.1 261.7L1595.2 260.6L1596.3 259.6L1597.4 258.5L1598.5 257.5L1599.6 256.4L1600.7 255.4L1601.8 254.3L1602.9 253.3L1604 252.3L1605.2 251.2L1606.3 250.2L1607.4 249.1L1608.5 248.1L1609.6 247.1L1610.8 246L1611.9 245L1613 244L1614.2 243L1615.3 242L1616.4 241" fill="none" stroke="#0000ff" stroke-width="2.85" stroke-linejoin="round"/>
<path d="M1396 388.8H1510.2" stroke="#0000ff" stroke-width="1.8" fill="none"/>
</g>
<path d="M1322.65 63.3H1762.8V418.6H1322.65ZM1322.65 418.6v12.8M1322.65 63.3v12.8M1469.37 418.6v12.8M1469.37 63.3v12.8M1616.08 418.6v12.8M1616.08 63.3v12.8M1762.8 418.6v12.8M1762.8 63.3v12.8M1396.01 418.6v6.4M1396.01 63.3v6.4M1542.72 418.6v6.4M1542.72 63.3v6.4M1689.44 418.6v6.4M1689.44 63.3v6.4M1322.65 63.3h-12.8M1762.8 63.3h-12.8M1322.65 152.12h-12.8M1762.8 152.12h-12.8M1322.65 240.95h-12.8M1762.8 240.95h-12.8M1322.65 329.78h-12.8M1762.8 329.78h-12.8M1322.65 418.6h-12.8M1762.8 418.6h-12.8M1322.65 107.71h-6.4M1762.8 107.71h-6.4M1322.65 196.54h-6.4M1762.8 196.54h-6.4M1322.65 285.36h-6.4M1762.8 285.36h-6.4M1322.65 374.19h-6.4M1762.8 374.19h-6.4" fill="none" stroke="#000" stroke-width="2.6"/>
<text transform="translate(1285.56 74.9) scale(1 1.045)" font-size="32">6</text>
<text transform="translate(1285.56 163.72) scale(1 1.045)" font-size="32">3</text>
<text transform="translate(1285.4 252.55) scale(1 1.045)" font-size="32">0</text>
<text transform="translate(1274.9 341.38) scale(1 1.045)" font-size="32">-3</text>
<text transform="translate(1274.9 430.2) scale(1 1.045)" font-size="32">-6</text>
<text transform="translate(1303.98 466.8) scale(1 1.045)" font-size="32">-4</text>
<text transform="translate(1450.63 466.8) scale(1 1.045)" font-size="32">-2</text>
<text transform="translate(1604.68 466.8) scale(1 1.045)" font-size="32">0</text>
<text transform="translate(1750.9 466.8) scale(1 1.045)" font-size="32">2</text>
<text transform="translate(1254.65 335.75) rotate(-90) scale(1 1.03)" font-size="38.4">Current (mA)</text>
<text transform="translate(1420.58 508.8) scale(1 1.045)" font-size="39.4">Voltage (V)</text>
<rect x="1344.9" y="88.2" width="146.1" height="114.5" fill="#fff" stroke="#000" stroke-width="1.7"/>
<path d="M1358.2 106.3h50.4" stroke="#000" stroke-width="3.2" fill="none"/>
<text transform="translate(1415.84 110.6) scale(1 1.03)" font-size="22.5">300 K</text>
<path d="M1358.2 134.2h50.4" stroke="#ff0000" stroke-width="3.2" fill="none"/>
<text transform="translate(1416.18 138.6) scale(1 1.03)" font-size="22.5">400 K</text>
<path d="M1358.2 162.1h50.4" stroke="#00b050" stroke-width="3.2" fill="none"/>
<text transform="translate(1415.8 166.6) scale(1 1.03)" font-size="22.5">500 K</text>
<path d="M1358.2 190h50.4" stroke="#0070c0" stroke-width="3.2" fill="none"/>
<text transform="translate(1415.56 194.6) scale(1 1.03)" font-size="22.5">600 K</text>
<path d="M1620.4 204.2L1666.6 158.6" stroke="#4472c4" stroke-width="2.5" fill="none"/>
<path d="M1673.7 151.6L1669.7 161.8L1663.4 155.4Z" fill="#4472c4"/>
<path d="M1718 212.5L1669.9 242.6" stroke="#4472c4" stroke-width="2.5" fill="none"/>
<path d="M1661.4 247.9L1667.5 238.8L1672.3 246.4Z" fill="#4472c4"/>
<path d="M1578.1 219.9L1516.2 267.1" stroke="#4472c4" stroke-width="2.5" fill="none"/>
<path d="M1508.2 273.2L1513.4 263.6L1518.9 270.7Z" fill="#4472c4"/>
<path d="M1559.8 318.2L1599.7 274.6" stroke="#4472c4" stroke-width="2.5" fill="none"/>
<path d="M1606.4 267.2L1603 277.6L1596.3 271.5Z" fill="#4472c4"/>
<text transform="translate(1619.2 169) scale(1 1.045)" font-size="30.5">1</text>
<text transform="translate(1692.22 258) scale(1 1.045)" font-size="30.5">2</text>
<text transform="translate(1511.41 228.7) scale(1 1.045)" font-size="30.5">3</text>
<text transform="translate(1592.42 313.9) scale(1 1.045)" font-size="30.5">4</text>
<text transform="translate(1209.64 30) scale(1 1.0)" font-size="39.6">(c)</text>
<path d="M121.55 605.4H562V960.8H121.55ZM176.61 960.8v12.8M176.61 605.4v12.8M286.72 960.8v12.8M286.72 605.4v12.8M396.83 960.8v12.8M396.83 605.4v12.8M506.94 960.8v12.8M506.94 605.4v12.8M121.55 960.8h-12.8M562 960.8h-12.8M121.55 871.95h-12.8M562 871.95h-12.8M121.55 783.1h-12.8M562 783.1h-12.8M121.55 694.25h-12.8M562 694.25h-12.8M121.55 605.4h-12.8M562 605.4h-12.8M121.55 916.38h-6.4M562 916.38h-6.4M121.55 827.52h-6.4M562 827.52h-6.4M121.55 738.67h-6.4M562 738.67h-6.4M121.55 649.83h-6.4M562 649.83h-6.4" fill="none" stroke="#000" stroke-width="2.6"/>
<text transform="translate(84.45 972.7) scale(1 1.045)" font-size="32">0</text>
<text transform="translate(66.66 883.85) scale(1 1.045)" font-size="32">50</text>
<text transform="translate(48.86 795) scale(1 1.045)" font-size="32">100</text>
<text transform="translate(48.86 706.15) scale(1 1.045)" font-size="32">150</text>
<text transform="translate(48.86 617.3) scale(1 1.045)" font-size="32">200</text>
<text transform="translate(149.63 1006.2) scale(1 1.045)" font-size="32">300</text>
<text transform="translate(259.98 1006.2) scale(1 1.045)" font-size="32">400</text>
<text transform="translate(369.82 1006.2) scale(1 1.045)" font-size="32">500</text>
<text transform="translate(479.76 1006.2) scale(1 1.045)" font-size="32">600</text>
<text transform="translate(30.35 928.7) rotate(-90) scale(1 0.98)" font-size="39">Resistivity (Ω•m)</text>
<text transform="translate(199.37 1048.8) scale(1 1.045)" font-size="39.4">Temperature (K)</text>
<path d="M176.6 810.8V829.9M176.6 843.6V850.3M163.4 810.8h26.5M163.4 850.3h26.5" stroke="#2a2a2a" stroke-width="1.25" fill="none"/>
<rect x="150.3" y="829.9" width="52.6" height="13.7" fill="#0000ff" stroke="#0a0a30" stroke-width="1.25"/>
<path d="M150.3 838.8h52.6" stroke="#0a0a30" stroke-width="1.25" fill="none"/>
<rect x="174.3" y="831.1" width="4.6" height="4.6" fill="none" stroke="#1a1a90" stroke-width="0.8"/>
<path d="M176.6 715l3.1 3.1l-3.1 3.1l-3.1 -3.1z" fill="#000"/>
<path d="M176.6 778.9l3.1 3.1l-3.1 3.1l-3.1 -3.1z" fill="#000"/>
<path d="M176.6 783.2l3.1 3.1l-3.1 3.1l-3.1 -3.1z" fill="#000"/>
<path d="M176.6 795.6l3.1 3.1l-3.1 3.1l-3.1 -3.1z" fill="#000"/>
<path d="M176.6 803.1l3.1 3.1l-3.1 3.1l-3.1 -3.1z" fill="#000"/>
<path d="M176.6 923.7V927.2M176.6 936.3V942.5M163.4 923.7h26.5M163.4 942.5h26.5" stroke="#2a2a2a" stroke-width="1.25" fill="none"/>
<rect x="150.3" y="927.2" width="52.6" height="9.1" fill="#ff0000" stroke="#300a0a" stroke-width="1.25"/>
<path d="M150.3 931.1h52.6" stroke="#300a0a" stroke-width="1.25" fill="none"/>
<rect x="174.3" y="929.2" width="4.6" height="4.6" fill="none" stroke="#901a1a" stroke-width="0.8"/>
<path d="M286.7 832.6V838.8M286.7 844.8V852.3M273.5 832.6h26.5M273.5 852.3h26.5" stroke="#2a2a2a" stroke-width="1.25" fill="none"/>
<rect x="260.4" y="838.8" width="52.6" height="6.1" fill="#0000ff" stroke="#0a0a30" stroke-width="1.25"/>
<path d="M260.4 841.6h52.6" stroke="#0a0a30" stroke-width="1.25" fill="none"/>
<rect x="284.4" y="839.2" width="4.6" height="4.6" fill="none" stroke="#1a1a90" stroke-width="0.8"/>
<path d="M286.7 827.1l3.1 3.1l-3.1 3.1l-3.1 -3.1z" fill="#000"/>
<path d="M286.7 924V926.7M286.7 929V930.6M273.5 924h26.5M273.5 930.6h26.5" stroke="#2a2a2a" stroke-width="1.25" fill="none"/>
<rect x="260.4" y="926.7" width="52.6" height="2.3" fill="#ff0000" stroke="#300a0a" stroke-width="1.25"/>
<path d="M260.4 927.9h52.6" stroke="#300a0a" stroke-width="1.25" fill="none"/>
<path d="M396.8 837.9V843.6M396.8 848.7V854.3M383.6 837.9h26.5M383.6 854.3h26.5" stroke="#2a2a2a" stroke-width="1.25" fill="none"/>
<rect x="370.5" y="843.6" width="52.6" height="5.2" fill="#0000ff" stroke="#0a0a30" stroke-width="1.25"/>
<path d="M370.5 845.9h52.6" stroke="#0a0a30" stroke-width="1.25" fill="none"/>
<rect x="394.5" y="843.4" width="4.6" height="4.6" fill="none" stroke="#1a1a90" stroke-width="0.8"/>
<path d="M396.8 829.1l3.1 3.1l-3.1 3.1l-3.1 -3.1z" fill="#000"/>
<path d="M396.8 832.1l3.1 3.1l-3.1 3.1l-3.1 -3.1z" fill="#000"/>
<path d="M396.8 852.4l3.1 3.1l-3.1 3.1l-3.1 -3.1z" fill="#000"/>
<path d="M396.8 937.4V939M396.8 941.3V941.8M383.6 937.4h26.5M383.6 941.8h26.5" stroke="#2a2a2a" stroke-width="1.25" fill="none"/>
<rect x="370.5" y="939" width="52.6" height="2.3" fill="#ff0000" stroke="#300a0a" stroke-width="1.25"/>
<path d="M370.5 940.2h52.6" stroke="#300a0a" stroke-width="1.25" fill="none"/>
<path d="M396.8 932l3.1 3.1l-3.1 3.1l-3.1 -3.1z" fill="#000"/>
<path d="M396.8 933.6l3.1 3.1l-3.1 3.1l-3.1 -3.1z" fill="#000"/>
<path d="M506.9 822.8V832.6M506.9 840.4V847.1M493.7 822.8h26.5M493.7 847.1h26.5" stroke="#2a2a2a" stroke-width="1.25" fill="none"/>
<rect x="480.6" y="832.6" width="52.6" height="7.8" fill="#0000ff" stroke="#0a0a30" stroke-width="1.25"/>
<path d="M480.6 836.5h52.6" stroke="#0a0a30" stroke-width="1.25" fill="none"/>
<rect x="504.6" y="834" width="4.6" height="4.6" fill="none" stroke="#1a1a90" stroke-width="0.8"/>
<path d="M506.9 945.6V947.5M506.9 949.1V949.8M493.7 945.6h26.5M493.7 949.8h26.5" stroke="#2a2a2a" stroke-width="1.25" fill="none"/>
<rect x="480.6" y="947.5" width="52.6" height="1.6" fill="#ff0000" stroke="#300a0a" stroke-width="1.25"/>
<path d="M480.6 948.4h52.6" stroke="#300a0a" stroke-width="1.25" fill="none"/>
<path d="M506.9 940.3l3.1 3.1l-3.1 3.1l-3.1 -3.1z" fill="#000"/>
<path d="M506.9 941.7l3.1 3.1l-3.1 3.1l-3.1 -3.1z" fill="#000"/>
<rect x="394.15" y="665.85" width="109.1" height="78.6" fill="#fff" stroke="#000" stroke-width="1.7"/>
<rect x="407.7" y="681" width="28.6" height="13.7" fill="#0000ff" stroke="#222" stroke-width="1"/>
<path d="M421.9 675.5V701.4M417.7 675.5h8.4M417.7 701.4h8.4" stroke="#222" stroke-width="1.1" fill="none"/>
<text transform="translate(439.75 698.4) scale(1 1.045)" font-size="28.6">HRS</text>
<rect x="407.7" y="717.2" width="28.6" height="13.7" fill="#ff0000" stroke="#222" stroke-width="1"/>
<path d="M421.9 711.7V737.6M417.7 711.7h8.4M417.7 737.6h8.4" stroke="#222" stroke-width="1.1" fill="none"/>
<text transform="translate(439.75 734.6) scale(1 1.045)" font-size="28.6">LRS</text>
<text transform="translate(10.64 566.5) scale(1 1.0)" font-size="39.6">(d)</text>
<path d="M723.2 605.4H1163.05V960.8H723.2ZM778.18 960.8v12.8M778.18 605.4v12.8M888.14 960.8v12.8M888.14 605.4v12.8M998.11 960.8v12.8M998.11 605.4v12.8M1108.07 960.8v12.8M1108.07 605.4v12.8M723.2 960.8h-12.8M1163.05 960.8h-12.8M723.2 871.95h-12.8M1163.05 871.95h-12.8M723.2 783.1h-12.8M1163.05 783.1h-12.8M723.2 694.25h-12.8M1163.05 694.25h-12.8M723.2 605.4h-12.8M1163.05 605.4h-12.8M723.2 916.38h-6.4M1163.05 916.38h-6.4M723.2 827.52h-6.4M1163.05 827.52h-6.4M723.2 738.67h-6.4M1163.05 738.67h-6.4M723.2 649.83h-6.4M1163.05 649.83h-6.4" fill="none" stroke="#000" stroke-width="2.6"/>
<text transform="translate(685.4 972.7) scale(1 1.045)" font-size="32">0</text>
<text transform="translate(667.61 883.85) scale(1 1.045)" font-size="32">50</text>
<text transform="translate(649.81 795) scale(1 1.045)" font-size="32">100</text>
<text transform="translate(649.81 706.15) scale(1 1.045)" font-size="32">150</text>
<text transform="translate(649.81 617.3) scale(1 1.045)" font-size="32">200</text>
<text transform="translate(751.2 1006.2) scale(1 1.045)" font-size="32">300</text>
<text transform="translate(861.41 1006.2) scale(1 1.045)" font-size="32">400</text>
<text transform="translate(971.1 1006.2) scale(1 1.045)" font-size="32">500</text>
<text transform="translate(1080.89 1006.2) scale(1 1.045)" font-size="32">600</text>
<text transform="translate(632 928.7) rotate(-90) scale(1 0.98)" font-size="39">Resistivity (Ω•m)</text>
<text transform="translate(801.02 1048.8) scale(1 1.045)" font-size="39.4">Temperature (K)</text>
<path d="M778.2 807.1V820.6M778.2 830.4V838.2M764.9 807.1h26.5M764.9 838.2h26.5" stroke="#2a2a2a" stroke-width="1.25" fill="none"/>
<rect x="751.9" y="820.6" width="52.6" height="9.8" fill="#0000ff" stroke="#0a0a30" stroke-width="1.25"/>
<path d="M751.9 825.6h52.6" stroke="#0a0a30" stroke-width="1.25" fill="none"/>
<rect x="775.9" y="821.2" width="4.6" height="4.6" fill="none" stroke="#1a1a90" stroke-width="0.8"/>
<path d="M778.2 748.7l3.1 3.1l-3.1 3.1l-3.1 -3.1z" fill="#000"/>
<path d="M778.2 766.3l3.1 3.1l-3.1 3.1l-3.1 -3.1z" fill="#000"/>
<path d="M778.2 781.2l3.1 3.1l-3.1 3.1l-3.1 -3.1z" fill="#000"/>
<path d="M778.2 788.3l3.1 3.1l-3.1 3.1l-3.1 -3.1z" fill="#000"/>
<path d="M778.2 797.6l3.1 3.1l-3.1 3.1l-3.1 -3.1z" fill="#000"/>
<path d="M778.2 925.4V927.6M778.2 931.3V932.7M764.9 925.4h26.5M764.9 932.7h26.5" stroke="#2a2a2a" stroke-width="1.25" fill="none"/>
<rect x="751.9" y="927.6" width="52.6" height="3.7" fill="#ff0000" stroke="#300a0a" stroke-width="1.25"/>
<path d="M751.9 929.5h52.6" stroke="#300a0a" stroke-width="1.25" fill="none"/>
<path d="M888.1 811.6V819.6M888.1 825.8V834.3M874.9 811.6h26.5M874.9 834.3h26.5" stroke="#2a2a2a" stroke-width="1.25" fill="none"/>
<rect x="861.8" y="819.6" width="52.6" height="6.2" fill="#0000ff" stroke="#0a0a30" stroke-width="1.25"/>
<path d="M861.8 822.6h52.6" stroke="#0a0a30" stroke-width="1.25" fill="none"/>
<rect x="885.8" y="820.3" width="4.6" height="4.6" fill="none" stroke="#1a1a90" stroke-width="0.8"/>
<path d="M888.1 932.4V933.3M888.1 935.4V935.9M874.9 932.4h26.5M874.9 935.9h26.5" stroke="#2a2a2a" stroke-width="1.25" fill="none"/>
<rect x="861.8" y="933.3" width="52.6" height="2.1" fill="#ff0000" stroke="#300a0a" stroke-width="1.25"/>
<path d="M861.8 934.3h52.6" stroke="#300a0a" stroke-width="1.25" fill="none"/>
<path d="M998.1 830.8V837.2M998.1 844.8V850.3M984.9 830.8h26.5M984.9 850.3h26.5" stroke="#2a2a2a" stroke-width="1.25" fill="none"/>
<rect x="971.8" y="837.2" width="52.6" height="7.7" fill="#0000ff" stroke="#0a0a30" stroke-width="1.25"/>
<path d="M971.8 840.7h52.6" stroke="#0a0a30" stroke-width="1.25" fill="none"/>
<rect x="995.8" y="838.6" width="4.6" height="4.6" fill="none" stroke="#1a1a90" stroke-width="0.8"/>
<path d="M998.1 940.6V941.1M998.1 942.7V943.1M984.9 940.6h26.5M984.9 943.1h26.5" stroke="#2a2a2a" stroke-width="1.25" fill="none"/>
<rect x="971.8" y="941.1" width="52.6" height="1.6" fill="#ff0000" stroke="#300a0a" stroke-width="1.25"/>
<path d="M971.8 942h52.6" stroke="#300a0a" stroke-width="1.25" fill="none"/>
<path d="M998.1 935.9l3.1 3.1l-3.1 3.1l-3.1 -3.1z" fill="#000"/>
<path d="M998.1 937.1l3.1 3.1l-3.1 3.1l-3.1 -3.1z" fill="#000"/>
<path d="M1108.1 857.1V864.4M1108.1 871.2V874.9M1094.8 857.1h26.5M1094.8 874.9h26.5" stroke="#2a2a2a" stroke-width="1.25" fill="none"/>
<rect x="1081.8" y="864.4" width="52.6" height="6.8" fill="#0000ff" stroke="#0a0a30" stroke-width="1.25"/>
<path d="M1081.8 867.6h52.6" stroke="#0a0a30" stroke-width="1.25" fill="none"/>
<rect x="1105.8" y="865.1" width="4.6" height="4.6" fill="none" stroke="#1a1a90" stroke-width="0.8"/>
<path d="M1108.1 946.3V946.6M1108.1 948.2V948.6M1094.8 946.3h26.5M1094.8 948.6h26.5" stroke="#2a2a2a" stroke-width="1.25" fill="none"/>
<rect x="1081.8" y="946.6" width="52.6" height="1.6" fill="#ff0000" stroke="#300a0a" stroke-width="1.25"/>
<path d="M1081.8 947.5h52.6" stroke="#300a0a" stroke-width="1.25" fill="none"/>
<path d="M1108.1 942.3l3.1 3.1l-3.1 3.1l-3.1 -3.1z" fill="#000"/>
<rect x="1003.65" y="671.85" width="109.1" height="78.6" fill="#fff" stroke="#000" stroke-width="1.7"/>
<rect x="1017.2" y="687" width="28.6" height="13.7" fill="#0000ff" stroke="#222" stroke-width="1"/>
<path d="M1031.4 681.5V707.4M1027.2 681.5h8.4M1027.2 707.4h8.4" stroke="#222" stroke-width="1.1" fill="none"/>
<text transform="translate(1049.25 704.4) scale(1 1.045)" font-size="28.6">HRS</text>
<rect x="1017.2" y="723.2" width="28.6" height="13.7" fill="#ff0000" stroke="#222" stroke-width="1"/>
<path d="M1031.4 717.7V743.6M1027.2 717.7h8.4M1027.2 743.6h8.4" stroke="#222" stroke-width="1.1" fill="none"/>
<text transform="translate(1049.25 740.6) scale(1 1.045)" font-size="28.6">LRS</text>
<text transform="translate(607.44 566.5) scale(1 1.0)" font-size="39.6">(e)</text>
<path d="M1322 605.3H1762.4V960.8H1322ZM1377.05 960.8v12.8M1377.05 605.3v12.8M1487.15 960.8v12.8M1487.15 605.3v12.8M1597.25 960.8v12.8M1597.25 605.3v12.8M1707.35 960.8v12.8M1707.35 605.3v12.8M1322 960.8h-12.8M1762.4 960.8h-12.8M1322 871.92h-12.8M1762.4 871.92h-12.8M1322 783.05h-12.8M1762.4 783.05h-12.8M1322 694.17h-12.8M1762.4 694.17h-12.8M1322 605.3h-12.8M1762.4 605.3h-12.8M1322 916.36h-6.4M1762.4 916.36h-6.4M1322 827.49h-6.4M1762.4 827.49h-6.4M1322 738.61h-6.4M1762.4 738.61h-6.4M1322 649.74h-6.4M1762.4 649.74h-6.4" fill="none" stroke="#000" stroke-width="2.6"/>
<text transform="translate(1284.9 972.7) scale(1 1.045)" font-size="32">0</text>
<text transform="translate(1267.11 883.82) scale(1 1.045)" font-size="32">50</text>
<text transform="translate(1249.31 794.95) scale(1 1.045)" font-size="32">100</text>
<text transform="translate(1249.31 706.07) scale(1 1.045)" font-size="32">150</text>
<text transform="translate(1249.31 617.2) scale(1 1.045)" font-size="32">200</text>
<text transform="translate(1350.07 1006.2) scale(1 1.045)" font-size="32">300</text>
<text transform="translate(1460.41 1006.2) scale(1 1.045)" font-size="32">400</text>
<text transform="translate(1570.24 1006.2) scale(1 1.045)" font-size="32">500</text>
<text transform="translate(1680.17 1006.2) scale(1 1.045)" font-size="32">600</text>
<text transform="translate(1230.8 928.7) rotate(-90) scale(1 0.98)" font-size="39">Resistivity (Ω•m)</text>
<text transform="translate(1399.82 1048.8) scale(1 1.045)" font-size="39.4">Temperature (K)</text>
<path d="M1377 790.7V796.4M1377 801.6V806.8M1363.8 790.7h26.5M1363.8 806.8h26.5" stroke="#2a2a2a" stroke-width="1.25" fill="none"/>
<rect x="1350.8" y="796.4" width="52.6" height="5.2" fill="#0000ff" stroke="#0a0a30" stroke-width="1.25"/>
<path d="M1350.8 798.9h52.6" stroke="#0a0a30" stroke-width="1.25" fill="none"/>
<rect x="1374.8" y="796.6" width="4.6" height="4.6" fill="none" stroke="#1a1a90" stroke-width="0.8"/>
<path d="M1377 903.6V909.6M1377 914.4V918M1363.8 903.6h26.5M1363.8 918h26.5" stroke="#2a2a2a" stroke-width="1.25" fill="none"/>
<rect x="1350.8" y="909.6" width="52.6" height="4.8" fill="#ff0000" stroke="#300a0a" stroke-width="1.25"/>
<path d="M1350.8 912.1h52.6" stroke="#300a0a" stroke-width="1.25" fill="none"/>
<path d="M1487.2 813.5V818M1487.2 822.1V826.3M1473.9 813.5h26.5M1473.9 826.3h26.5" stroke="#2a2a2a" stroke-width="1.25" fill="none"/>
<rect x="1460.9" y="818" width="52.6" height="4.1" fill="#0000ff" stroke="#0a0a30" stroke-width="1.25"/>
<path d="M1460.9 819.9h52.6" stroke="#0a0a30" stroke-width="1.25" fill="none"/>
<path d="M1487.2 913.7V915.3M1487.2 917.4V918.5M1473.9 913.7h26.5M1473.9 918.5h26.5" stroke="#2a2a2a" stroke-width="1.25" fill="none"/>
<rect x="1460.9" y="915.3" width="52.6" height="2.1" fill="#ff0000" stroke="#300a0a" stroke-width="1.25"/>
<path d="M1460.9 916.4h52.6" stroke="#300a0a" stroke-width="1.25" fill="none"/>
<path d="M1597.2 834.5V838.8M1597.2 842.5V846.6M1584 834.5h26.5M1584 846.6h26.5" stroke="#2a2a2a" stroke-width="1.25" fill="none"/>
<rect x="1571" y="838.8" width="52.6" height="3.7" fill="#0000ff" stroke="#0a0a30" stroke-width="1.25"/>
<path d="M1571 840.6h52.6" stroke="#0a0a30" stroke-width="1.25" fill="none"/>
<path d="M1597.2 926.7V927.4M1597.2 929.4V929.9M1584 926.7h26.5M1584 929.9h26.5" stroke="#2a2a2a" stroke-width="1.25" fill="none"/>
<rect x="1571" y="927.4" width="52.6" height="2" fill="#ff0000" stroke="#300a0a" stroke-width="1.25"/>
<path d="M1571 928.5h52.6" stroke="#300a0a" stroke-width="1.25" fill="none"/>
<path d="M1597.2 920.4l3.1 3.1l-3.1 3.1l-3.1 -3.1z" fill="#000"/>
<path d="M1597.2 922.2l3.1 3.1l-3.1 3.1l-3.1 -3.1z" fill="#000"/>
<path d="M1707.4 859.1V869.4M1707.4 885.2V890.4M1694.1 859.1h26.5M1694.1 890.4h26.5" stroke="#2a2a2a" stroke-width="1.25" fill="none"/>
<rect x="1681.1" y="869.4" width="52.6" height="15.8" fill="#0000ff" stroke="#0a0a30" stroke-width="1.25"/>
<path d="M1681.1 877.8h52.6" stroke="#0a0a30" stroke-width="1.25" fill="none"/>
<rect x="1705.1" y="873.7" width="4.6" height="4.6" fill="none" stroke="#1a1a90" stroke-width="0.8"/>
<path d="M1707.4 938.6V939.1M1707.4 940.7V941.1M1694.1 938.6h26.5M1694.1 941.1h26.5" stroke="#2a2a2a" stroke-width="1.25" fill="none"/>
<rect x="1681.1" y="939.1" width="52.6" height="1.6" fill="#ff0000" stroke="#300a0a" stroke-width="1.25"/>
<path d="M1681.1 940h52.6" stroke="#300a0a" stroke-width="1.25" fill="none"/>
<path d="M1707.4 932.5l3.1 3.1l-3.1 3.1l-3.1 -3.1z" fill="#000"/>
<path d="M1707.4 934.6l3.1 3.1l-3.1 3.1l-3.1 -3.1z" fill="#000"/>
<rect x="1602.75" y="663.05" width="109.1" height="78.6" fill="#fff" stroke="#000" stroke-width="1.7"/>
<rect x="1616.3" y="678.2" width="28.6" height="13.7" fill="#0000ff" stroke="#222" stroke-width="1"/>
<path d="M1630.5 672.7V698.6M1626.3 672.7h8.4M1626.3 698.6h8.4" stroke="#222" stroke-width="1.1" fill="none"/>
<text transform="translate(1648.35 695.6) scale(1 1.045)" font-size="28.6">HRS</text>
<rect x="1616.3" y="714.4" width="28.6" height="13.7" fill="#ff0000" stroke="#222" stroke-width="1"/>
<path d="M1630.5 708.9V734.8M1626.3 708.9h8.4M1626.3 734.8h8.4" stroke="#222" stroke-width="1.1" fill="none"/>
<text transform="translate(1648.35 731.8) scale(1 1.045)" font-size="28.6">LRS</text>
<text transform="translate(1214.04 566.5) scale(1 1.0)" font-size="39.6">(f)</text>
<path d="M121.4 1134.8H561.4V1490.4H121.4ZM176.4 1490.4v12.8M176.4 1134.8v12.8M286.4 1490.4v12.8M286.4 1134.8v12.8M396.4 1490.4v12.8M396.4 1134.8v12.8M506.4 1490.4v12.8M506.4 1134.8v12.8M121.4 1490.4h-12.8M561.4 1490.4h-12.8M121.4 1371.87h-12.8M561.4 1371.87h-12.8M121.4 1253.33h-12.8M561.4 1253.33h-12.8M121.4 1134.8h-12.8M561.4 1134.8h-12.8M121.4 1431.13h-6.4M561.4 1431.13h-6.4M121.4 1312.6h-6.4M561.4 1312.6h-6.4M121.4 1194.07h-6.4M561.4 1194.07h-6.4" fill="none" stroke="#000" stroke-width="2.6"/>
<text transform="translate(86.55 1502.3) scale(1 1.045)" font-size="32">0</text>
<text transform="translate(86.65 1383.77) scale(1 1.045)" font-size="32">5</text>
<text transform="translate(68.76 1265.23) scale(1 1.045)" font-size="32">10</text>
<text transform="translate(68.85 1146.7) scale(1 1.045)" font-size="32">15</text>
<text transform="translate(149.42 1537.8) scale(1 1.045)" font-size="32">300</text>
<text transform="translate(259.66 1537.8) scale(1 1.045)" font-size="32">400</text>
<text transform="translate(369.39 1537.8) scale(1 1.045)" font-size="32">500</text>
<text transform="translate(479.22 1537.8) scale(1 1.045)" font-size="32">600</text>
<text transform="translate(58.8 1453.58) rotate(-90) scale(1 1.03)" font-size="38.8">Resistance ratio</text>
<text transform="translate(197.12 1581) scale(1 1.045)" font-size="39.4">Temperature (K)</text>
<path d="M176.4 1307.8V1364.5M176.4 1405.8V1416.7M163.2 1307.8h26.5M163.2 1416.7h26.5" stroke="#2a2a2a" stroke-width="1.25" fill="none"/>
<rect x="150.1" y="1364.5" width="52.6" height="41.3" fill="#689a9a" stroke="#141f1f" stroke-width="1.25"/>
<path d="M150.1 1390.6h52.6" stroke="#141f1f" stroke-width="1.25" fill="none"/>
<rect x="174.1" y="1376.9" width="4.6" height="4.6" fill="none" stroke="#356060" stroke-width="0.8"/>
<path d="M176.4 1170.1l3.1 3.1l-3.1 3.1l-3.1 -3.1z" fill="#000"/>
<path d="M176.4 1271.2l3.1 3.1l-3.1 3.1l-3.1 -3.1z" fill="#000"/>
<path d="M176.4 1274.6l3.1 3.1l-3.1 3.1l-3.1 -3.1z" fill="#000"/>
<path d="M286.4 1395.6V1400.1M286.4 1405.8V1414.3M273.1 1395.6h26.5M273.1 1414.3h26.5" stroke="#2a2a2a" stroke-width="1.25" fill="none"/>
<rect x="260.1" y="1400.1" width="52.6" height="5.7" fill="#689a9a" stroke="#141f1f" stroke-width="1.25"/>
<path d="M260.1 1402.9h52.6" stroke="#141f1f" stroke-width="1.25" fill="none"/>
<rect x="284.1" y="1400.6" width="4.6" height="4.6" fill="none" stroke="#356060" stroke-width="0.8"/>
<path d="M286.4 1387.5l3.1 3.1l-3.1 3.1l-3.1 -3.1z" fill="#000"/>
<path d="M286.4 1413.6l3.1 3.1l-3.1 3.1l-3.1 -3.1z" fill="#000"/>
<path d="M286.4 1415.5l3.1 3.1l-3.1 3.1l-3.1 -3.1z" fill="#000"/>
<path d="M396.4 1332.2V1348.1M396.4 1363.3V1385.4M383.1 1332.2h26.5M383.1 1385.4h26.5" stroke="#2a2a2a" stroke-width="1.25" fill="none"/>
<rect x="370.1" y="1348.1" width="52.6" height="15.2" fill="#689a9a" stroke="#141f1f" stroke-width="1.25"/>
<path d="M370.1 1353.1h52.6" stroke="#141f1f" stroke-width="1.25" fill="none"/>
<rect x="394.1" y="1353.7" width="4.6" height="4.6" fill="none" stroke="#356060" stroke-width="0.8"/>
<path d="M506.4 1211.2V1228.5M506.4 1268.2V1326.5M493.1 1211.2h26.5M493.1 1326.5h26.5" stroke="#2a2a2a" stroke-width="1.25" fill="none"/>
<rect x="480.1" y="1228.5" width="52.6" height="39.6" fill="#689a9a" stroke="#141f1f" stroke-width="1.25"/>
<path d="M480.1 1238h52.6" stroke="#141f1f" stroke-width="1.25" fill="none"/>
<rect x="504.1" y="1246.9" width="4.6" height="4.6" fill="none" stroke="#356060" stroke-width="0.8"/>
<text transform="translate(10.74 1094.5) scale(1 1.0)" font-size="39.6">(g)</text>
<path d="M722 1134.8H1162.5V1490.3H722ZM777.06 1490.3v12.8M777.06 1134.8v12.8M887.19 1490.3v12.8M887.19 1134.8v12.8M997.31 1490.3v12.8M997.31 1134.8v12.8M1107.44 1490.3v12.8M1107.44 1134.8v12.8M722 1490.3h-12.8M1162.5 1490.3h-12.8M722 1371.8h-12.8M1162.5 1371.8h-12.8M722 1253.3h-12.8M1162.5 1253.3h-12.8M722 1134.8h-12.8M1162.5 1134.8h-12.8M722 1431.05h-6.4M1162.5 1431.05h-6.4M722 1312.55h-6.4M1162.5 1312.55h-6.4M722 1194.05h-6.4M1162.5 1194.05h-6.4" fill="none" stroke="#000" stroke-width="2.6"/>
<text transform="translate(687.15 1502.2) scale(1 1.045)" font-size="32">0</text>
<text transform="translate(687.25 1383.7) scale(1 1.045)" font-size="32">5</text>
<text transform="translate(669.36 1265.2) scale(1 1.045)" font-size="32">10</text>
<text transform="translate(669.45 1146.7) scale(1 1.045)" font-size="32">15</text>
<text transform="translate(750.08 1537.8) scale(1 1.045)" font-size="32">300</text>
<text transform="translate(860.45 1537.8) scale(1 1.045)" font-size="32">400</text>
<text transform="translate(970.3 1537.8) scale(1 1.045)" font-size="32">500</text>
<text transform="translate(1080.25 1537.8) scale(1 1.045)" font-size="32">600</text>
<text transform="translate(659.4 1453.48) rotate(-90) scale(1 1.03)" font-size="38.8">Resistance ratio</text>
<text transform="translate(797.72 1581) scale(1 1.045)" font-size="39.4">Temperature (K)</text>
<path d="M777.1 1350.5V1376.4M777.1 1394.2V1401.8M763.8 1350.5h26.5M763.8 1401.8h26.5" stroke="#2a2a2a" stroke-width="1.25" fill="none"/>
<rect x="750.8" y="1376.4" width="52.6" height="17.8" fill="#689a9a" stroke="#141f1f" stroke-width="1.25"/>
<path d="M750.8 1388.2h52.6" stroke="#141f1f" stroke-width="1.25" fill="none"/>
<rect x="774.8" y="1381.2" width="4.6" height="4.6" fill="none" stroke="#356060" stroke-width="0.8"/>
<path d="M777.1 1330.1l3.1 3.1l-3.1 3.1l-3.1 -3.1z" fill="#000"/>
<path d="M777.1 1345.5l3.1 3.1l-3.1 3.1l-3.1 -3.1z" fill="#000"/>
<path d="M887.2 1352.2V1360.2M887.2 1367.1V1375.7M873.9 1352.2h26.5M873.9 1375.7h26.5" stroke="#2a2a2a" stroke-width="1.25" fill="none"/>
<rect x="860.9" y="1360.2" width="52.6" height="6.9" fill="#689a9a" stroke="#141f1f" stroke-width="1.25"/>
<path d="M860.9 1363.6h52.6" stroke="#141f1f" stroke-width="1.25" fill="none"/>
<rect x="884.9" y="1361.3" width="4.6" height="4.6" fill="none" stroke="#356060" stroke-width="0.8"/>
<path d="M887.2 1374.5l3.1 3.1l-3.1 3.1l-3.1 -3.1z" fill="#000"/>
<path d="M997.3 1325.4V1334.8M997.3 1342V1350.7M984.1 1325.4h26.5M984.1 1350.7h26.5" stroke="#2a2a2a" stroke-width="1.25" fill="none"/>
<rect x="971" y="1334.8" width="52.6" height="7.1" fill="#689a9a" stroke="#141f1f" stroke-width="1.25"/>
<path d="M971 1338.4h52.6" stroke="#141f1f" stroke-width="1.25" fill="none"/>
<rect x="995" y="1336.1" width="4.6" height="4.6" fill="none" stroke="#356060" stroke-width="0.8"/>
<path d="M997.3 1319.6l3.1 3.1l-3.1 3.1l-3.1 -3.1z" fill="#000"/>
<path d="M1107.4 1308.5V1316.3M1107.4 1325.8V1335.8M1094.2 1308.5h26.5M1094.2 1335.8h26.5" stroke="#2a2a2a" stroke-width="1.25" fill="none"/>
<rect x="1081.1" y="1316.3" width="52.6" height="9.5" fill="#689a9a" stroke="#141f1f" stroke-width="1.25"/>
<path d="M1081.1 1321.1h52.6" stroke="#141f1f" stroke-width="1.25" fill="none"/>
<rect x="1105.1" y="1318.8" width="4.6" height="4.6" fill="none" stroke="#356060" stroke-width="0.8"/>
<text transform="translate(607.44 1094.5) scale(1 1.0)" font-size="39.6">(h)</text>
<path d="M1322.5 1134.8H1762.9V1490.3H1322.5ZM1377.55 1490.3v12.8M1377.55 1134.8v12.8M1487.65 1490.3v12.8M1487.65 1134.8v12.8M1597.75 1490.3v12.8M1597.75 1134.8v12.8M1707.85 1490.3v12.8M1707.85 1134.8v12.8M1322.5 1490.3h-12.8M1762.9 1490.3h-12.8M1322.5 1371.8h-12.8M1762.9 1371.8h-12.8M1322.5 1253.3h-12.8M1762.9 1253.3h-12.8M1322.5 1134.8h-12.8M1762.9 1134.8h-12.8M1322.5 1431.05h-6.4M1762.9 1431.05h-6.4M1322.5 1312.55h-6.4M1762.9 1312.55h-6.4M1322.5 1194.05h-6.4M1762.9 1194.05h-6.4" fill="none" stroke="#000" stroke-width="2.6"/>
<text transform="translate(1287.65 1502.2) scale(1 1.045)" font-size="32">0</text>
<text transform="translate(1287.75 1383.7) scale(1 1.045)" font-size="32">5</text>
<text transform="translate(1269.86 1265.2) scale(1 1.045)" font-size="32">10</text>
<text transform="translate(1269.95 1146.7) scale(1 1.045)" font-size="32">15</text>
<text transform="translate(1350.57 1537.8) scale(1 1.045)" font-size="32">300</text>
<text transform="translate(1460.91 1537.8) scale(1 1.045)" font-size="32">400</text>
<text transform="translate(1570.74 1537.8) scale(1 1.045)" font-size="32">500</text>
<text transform="translate(1680.67 1537.8) scale(1 1.045)" font-size="32">600</text>
<text transform="translate(1259.9 1453.48) rotate(-90) scale(1 1.03)" font-size="38.8">Resistance ratio</text>
<text transform="translate(1398.22 1581) scale(1 1.045)" font-size="39.4">Temperature (K)</text>
<path d="M1377.5 1396.8V1405.8M1377.5 1415.5V1421.7M1364.3 1396.8h26.5M1364.3 1421.7h26.5" stroke="#2a2a2a" stroke-width="1.25" fill="none"/>
<rect x="1351.2" y="1405.8" width="52.6" height="9.7" fill="#689a9a" stroke="#141f1f" stroke-width="1.25"/>
<path d="M1351.2 1409.8h52.6" stroke="#141f1f" stroke-width="1.25" fill="none"/>
<rect x="1375.2" y="1408.2" width="4.6" height="4.6" fill="none" stroke="#356060" stroke-width="0.8"/>
<path d="M1487.7 1410.1V1413.2M1487.7 1417.2V1419.8M1474.4 1410.1h26.5M1474.4 1419.8h26.5" stroke="#2a2a2a" stroke-width="1.25" fill="none"/>
<rect x="1461.4" y="1413.2" width="52.6" height="4" fill="#689a9a" stroke="#141f1f" stroke-width="1.25"/>
<path d="M1461.4 1415.1h52.6" stroke="#141f1f" stroke-width="1.25" fill="none"/>
<path d="M1597.8 1396.3V1399.4M1597.8 1403.4V1408.4M1584.5 1396.3h26.5M1584.5 1408.4h26.5" stroke="#2a2a2a" stroke-width="1.25" fill="none"/>
<rect x="1571.5" y="1399.4" width="52.6" height="4" fill="#689a9a" stroke="#141f1f" stroke-width="1.25"/>
<path d="M1571.5 1401h52.6" stroke="#141f1f" stroke-width="1.25" fill="none"/>
<path d="M1597.8 1407.2l3.1 3.1l-3.1 3.1l-3.1 -3.1z" fill="#000"/>
<path d="M1597.8 1410.1l3.1 3.1l-3.1 3.1l-3.1 -3.1z" fill="#000"/>
<path d="M1597.8 1404.8l3.1 3.1l-3.1 3.1l-3.1 -3.1z" fill="#000"/>
<path d="M1707.9 1379V1386.3M1707.9 1403.7V1408.6M1694.6 1379h26.5M1694.6 1408.6h26.5" stroke="#2a2a2a" stroke-width="1.25" fill="none"/>
<rect x="1681.6" y="1386.3" width="52.6" height="17.3" fill="#689a9a" stroke="#141f1f" stroke-width="1.25"/>
<path d="M1681.6 1393.9h52.6" stroke="#141f1f" stroke-width="1.25" fill="none"/>
<rect x="1705.6" y="1392.6" width="4.6" height="4.6" fill="none" stroke="#356060" stroke-width="0.8"/>
<text transform="translate(1215.34 1094.5) scale(1 1.0)" font-size="39.6">(i)</text>
</svg></body></html>
